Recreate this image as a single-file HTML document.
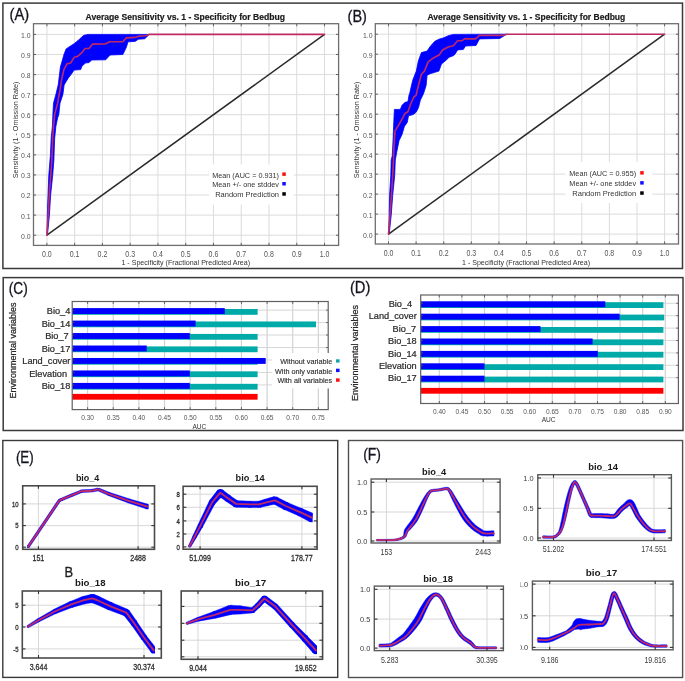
<!DOCTYPE html>
<html><head><meta charset="utf-8"><style>
html,body{margin:0;padding:0;background:#fff;}
body{width:685px;height:681px;overflow:hidden;font-family:"Liberation Sans", sans-serif;}
svg{display:block;filter:blur(0.35px);}
</style></head><body>
<svg width="685" height="681" viewBox="0 0 685 681" font-family='"Liberation Sans", sans-serif'>
<rect x="0" y="0" width="685" height="681" fill="#fff"/>
<rect x="2.9" y="3.1" width="679.6" height="265.4" fill="none" stroke="#3a3a3a" stroke-width="1.5" />
<rect x="3.2" y="277.6" width="679.8" height="152.9" fill="none" stroke="#3a3a3a" stroke-width="1.5" />
<rect x="2.8" y="440.5" width="334.9" height="236.9" fill="none" stroke="#3a3a3a" stroke-width="1.4" />
<rect x="348.5" y="440.5" width="334.1" height="237" fill="none" stroke="#505050" stroke-width="1.4" />
<text x="9.6" y="20" font-size="16.7" fill="#141420" stroke="#141420" stroke-width="0.3" textLength="19.6" lengthAdjust="spacingAndGlyphs" >(A)</text>
<text x="347.6" y="21.7" font-size="16.7" fill="#141420" stroke="#141420" stroke-width="0.3" textLength="19.3" lengthAdjust="spacingAndGlyphs" >(B)</text>
<text x="8.7" y="294" font-size="16.7" fill="#141420" stroke="#141420" stroke-width="0.3" textLength="19" lengthAdjust="spacingAndGlyphs" >(C)</text>
<text x="349.9" y="293.4" font-size="16.7" fill="#141420" stroke="#141420" stroke-width="0.3" textLength="20.4" lengthAdjust="spacingAndGlyphs" >(D)</text>
<text x="15.9" y="462.6" font-size="16.7" fill="#141420" stroke="#141420" stroke-width="0.3" textLength="17.8" lengthAdjust="spacingAndGlyphs" >(E)</text>
<text x="363.2" y="460.1" font-size="16.7" fill="#141420" stroke="#141420" stroke-width="0.3" textLength="17.8" lengthAdjust="spacingAndGlyphs" >(F)</text>
<line x1="46.9" y1="23.7" x2="46.9" y2="245.4" stroke="#dcdcdc" stroke-width="1" />
<line x1="33.5" y1="235.2" x2="338.6" y2="235.2" stroke="#dcdcdc" stroke-width="1" />
<line x1="74.66" y1="23.7" x2="74.66" y2="245.4" stroke="#dcdcdc" stroke-width="1" />
<line x1="33.5" y1="215.12" x2="338.6" y2="215.12" stroke="#dcdcdc" stroke-width="1" />
<line x1="102.42" y1="23.7" x2="102.42" y2="245.4" stroke="#dcdcdc" stroke-width="1" />
<line x1="33.5" y1="195.04" x2="338.6" y2="195.04" stroke="#dcdcdc" stroke-width="1" />
<line x1="130.18" y1="23.7" x2="130.18" y2="245.4" stroke="#dcdcdc" stroke-width="1" />
<line x1="33.5" y1="174.96" x2="338.6" y2="174.96" stroke="#dcdcdc" stroke-width="1" />
<line x1="157.94" y1="23.7" x2="157.94" y2="245.4" stroke="#dcdcdc" stroke-width="1" />
<line x1="33.5" y1="154.88" x2="338.6" y2="154.88" stroke="#dcdcdc" stroke-width="1" />
<line x1="185.7" y1="23.7" x2="185.7" y2="245.4" stroke="#dcdcdc" stroke-width="1" />
<line x1="33.5" y1="134.8" x2="338.6" y2="134.8" stroke="#dcdcdc" stroke-width="1" />
<line x1="213.46" y1="23.7" x2="213.46" y2="245.4" stroke="#dcdcdc" stroke-width="1" />
<line x1="33.5" y1="114.72" x2="338.6" y2="114.72" stroke="#dcdcdc" stroke-width="1" />
<line x1="241.22" y1="23.7" x2="241.22" y2="245.4" stroke="#dcdcdc" stroke-width="1" />
<line x1="33.5" y1="94.64" x2="338.6" y2="94.64" stroke="#dcdcdc" stroke-width="1" />
<line x1="268.98" y1="23.7" x2="268.98" y2="245.4" stroke="#dcdcdc" stroke-width="1" />
<line x1="33.5" y1="74.56" x2="338.6" y2="74.56" stroke="#dcdcdc" stroke-width="1" />
<line x1="296.74" y1="23.7" x2="296.74" y2="245.4" stroke="#dcdcdc" stroke-width="1" />
<line x1="33.5" y1="54.48" x2="338.6" y2="54.48" stroke="#dcdcdc" stroke-width="1" />
<line x1="324.5" y1="23.7" x2="324.5" y2="245.4" stroke="#dcdcdc" stroke-width="1" />
<line x1="33.5" y1="34.4" x2="338.6" y2="34.4" stroke="#dcdcdc" stroke-width="1" />
<rect x="209.1" y="164.5" width="84.7" height="40.1" fill="#fff" stroke="none" stroke-width="1" />
<polygon points="47,235.2 47.3,215.3 48,195.3 48.8,175.3 50,160 50.4,155.6 51.2,137.9 52.4,126.2 52.9,114.4 53.5,103.2 55.9,94.4 58.2,85 58.7,81.1 60.4,67 62.2,60.8 63.9,54.7 66.1,48.9 70.6,45.9 74.1,43.7 78,40.6 80.2,38.4 83.8,35.3 88.2,34.4 149.3,34.4 149.3,34.4 144.7,38.8 138.5,39.2 135,41.4 128,41.8 126.3,47.5 122.8,54.5 110.1,55 105.7,59.8 91.7,60 89.1,62.6 85.5,63 82,66.1 80.7,69.6 74.1,70.1 71.4,74.1 68.3,78 65.3,82.9 64.1,85 62.9,94.4 60,103.2 58.8,114.4 57.6,118 55.9,126.2 54.7,137.9 54.2,150 53.9,160 52.7,175.3 50.6,195.3 49.4,215.3 47.4,235.2" fill="#0000ff" stroke="#0000ff" stroke-width="0.8" stroke-linejoin="round" />
<line x1="46.9" y1="235.2" x2="324.5" y2="34.4" stroke="#2a2a2a" stroke-width="1.5" />
<polyline points="46.9,235.2 48.2,215.3 49.2,195.3 50.8,175.3 51.8,160 52.3,150 52.7,137.9 53.5,126.2 54.7,114.4 57.6,103.2 60,90 61.7,79.3 63.9,69.6 67,63.9 70.6,63 74.1,57.3 77.6,56.4 81.6,52.9 85.1,48.5 89,48.5 92.6,44.1 105.3,44 109.6,41.8 122.8,41.8 126.3,37.9 135,37.4 139.4,36.1 145.5,35.7 149.3,34.4 324.5,34.4" fill="none" stroke="#bf2a66" stroke-width="1.6" stroke-linejoin="round" stroke-linecap="round" />
<rect x="33.5" y="23.7" width="305.1" height="221.7" fill="none" stroke="#6e6e6e" stroke-width="1.3" />
<line x1="46.9" y1="23.7" x2="46.9" y2="26.3" stroke="#555" stroke-width="0.9" />
<line x1="46.9" y1="245.4" x2="46.9" y2="242.8" stroke="#555" stroke-width="0.9" />
<line x1="33.5" y1="235.2" x2="36.1" y2="235.2" stroke="#555" stroke-width="0.9" />
<line x1="338.6" y1="235.2" x2="336" y2="235.2" stroke="#555" stroke-width="0.9" />
<line x1="74.66" y1="23.7" x2="74.66" y2="26.3" stroke="#555" stroke-width="0.9" />
<line x1="74.66" y1="245.4" x2="74.66" y2="242.8" stroke="#555" stroke-width="0.9" />
<line x1="33.5" y1="215.12" x2="36.1" y2="215.12" stroke="#555" stroke-width="0.9" />
<line x1="338.6" y1="215.12" x2="336" y2="215.12" stroke="#555" stroke-width="0.9" />
<line x1="102.42" y1="23.7" x2="102.42" y2="26.3" stroke="#555" stroke-width="0.9" />
<line x1="102.42" y1="245.4" x2="102.42" y2="242.8" stroke="#555" stroke-width="0.9" />
<line x1="33.5" y1="195.04" x2="36.1" y2="195.04" stroke="#555" stroke-width="0.9" />
<line x1="338.6" y1="195.04" x2="336" y2="195.04" stroke="#555" stroke-width="0.9" />
<line x1="130.18" y1="23.7" x2="130.18" y2="26.3" stroke="#555" stroke-width="0.9" />
<line x1="130.18" y1="245.4" x2="130.18" y2="242.8" stroke="#555" stroke-width="0.9" />
<line x1="33.5" y1="174.96" x2="36.1" y2="174.96" stroke="#555" stroke-width="0.9" />
<line x1="338.6" y1="174.96" x2="336" y2="174.96" stroke="#555" stroke-width="0.9" />
<line x1="157.94" y1="23.7" x2="157.94" y2="26.3" stroke="#555" stroke-width="0.9" />
<line x1="157.94" y1="245.4" x2="157.94" y2="242.8" stroke="#555" stroke-width="0.9" />
<line x1="33.5" y1="154.88" x2="36.1" y2="154.88" stroke="#555" stroke-width="0.9" />
<line x1="338.6" y1="154.88" x2="336" y2="154.88" stroke="#555" stroke-width="0.9" />
<line x1="185.7" y1="23.7" x2="185.7" y2="26.3" stroke="#555" stroke-width="0.9" />
<line x1="185.7" y1="245.4" x2="185.7" y2="242.8" stroke="#555" stroke-width="0.9" />
<line x1="33.5" y1="134.8" x2="36.1" y2="134.8" stroke="#555" stroke-width="0.9" />
<line x1="338.6" y1="134.8" x2="336" y2="134.8" stroke="#555" stroke-width="0.9" />
<line x1="213.46" y1="23.7" x2="213.46" y2="26.3" stroke="#555" stroke-width="0.9" />
<line x1="213.46" y1="245.4" x2="213.46" y2="242.8" stroke="#555" stroke-width="0.9" />
<line x1="33.5" y1="114.72" x2="36.1" y2="114.72" stroke="#555" stroke-width="0.9" />
<line x1="338.6" y1="114.72" x2="336" y2="114.72" stroke="#555" stroke-width="0.9" />
<line x1="241.22" y1="23.7" x2="241.22" y2="26.3" stroke="#555" stroke-width="0.9" />
<line x1="241.22" y1="245.4" x2="241.22" y2="242.8" stroke="#555" stroke-width="0.9" />
<line x1="33.5" y1="94.64" x2="36.1" y2="94.64" stroke="#555" stroke-width="0.9" />
<line x1="338.6" y1="94.64" x2="336" y2="94.64" stroke="#555" stroke-width="0.9" />
<line x1="268.98" y1="23.7" x2="268.98" y2="26.3" stroke="#555" stroke-width="0.9" />
<line x1="268.98" y1="245.4" x2="268.98" y2="242.8" stroke="#555" stroke-width="0.9" />
<line x1="33.5" y1="74.56" x2="36.1" y2="74.56" stroke="#555" stroke-width="0.9" />
<line x1="338.6" y1="74.56" x2="336" y2="74.56" stroke="#555" stroke-width="0.9" />
<line x1="296.74" y1="23.7" x2="296.74" y2="26.3" stroke="#555" stroke-width="0.9" />
<line x1="296.74" y1="245.4" x2="296.74" y2="242.8" stroke="#555" stroke-width="0.9" />
<line x1="33.5" y1="54.48" x2="36.1" y2="54.48" stroke="#555" stroke-width="0.9" />
<line x1="338.6" y1="54.48" x2="336" y2="54.48" stroke="#555" stroke-width="0.9" />
<line x1="324.5" y1="23.7" x2="324.5" y2="26.3" stroke="#555" stroke-width="0.9" />
<line x1="324.5" y1="245.4" x2="324.5" y2="242.8" stroke="#555" stroke-width="0.9" />
<line x1="33.5" y1="34.4" x2="36.1" y2="34.4" stroke="#555" stroke-width="0.9" />
<line x1="338.6" y1="34.4" x2="336" y2="34.4" stroke="#555" stroke-width="0.9" />
<text x="30.7" y="238.6" font-size="8" fill="#555" text-anchor="end" textLength="9.59" lengthAdjust="spacingAndGlyphs" >0.0</text>
<text x="46.9" y="256.9" font-size="8.4" fill="#555" text-anchor="middle" textLength="9.73" lengthAdjust="spacingAndGlyphs" >0.0</text>
<text x="30.7" y="218.52" font-size="8" fill="#555" text-anchor="end" textLength="9.59" lengthAdjust="spacingAndGlyphs" >0.1</text>
<text x="74.66" y="256.9" font-size="8.4" fill="#555" text-anchor="middle" textLength="9.73" lengthAdjust="spacingAndGlyphs" >0.1</text>
<text x="30.7" y="198.44" font-size="8" fill="#555" text-anchor="end" textLength="9.59" lengthAdjust="spacingAndGlyphs" >0.2</text>
<text x="102.42" y="256.9" font-size="8.4" fill="#555" text-anchor="middle" textLength="9.73" lengthAdjust="spacingAndGlyphs" >0.2</text>
<text x="30.7" y="178.36" font-size="8" fill="#555" text-anchor="end" textLength="9.59" lengthAdjust="spacingAndGlyphs" >0.3</text>
<text x="130.18" y="256.9" font-size="8.4" fill="#555" text-anchor="middle" textLength="9.73" lengthAdjust="spacingAndGlyphs" >0.3</text>
<text x="30.7" y="158.28" font-size="8" fill="#555" text-anchor="end" textLength="9.59" lengthAdjust="spacingAndGlyphs" >0.4</text>
<text x="157.94" y="256.9" font-size="8.4" fill="#555" text-anchor="middle" textLength="9.73" lengthAdjust="spacingAndGlyphs" >0.4</text>
<text x="30.7" y="138.2" font-size="8" fill="#555" text-anchor="end" textLength="9.59" lengthAdjust="spacingAndGlyphs" >0.5</text>
<text x="185.7" y="256.9" font-size="8.4" fill="#555" text-anchor="middle" textLength="9.73" lengthAdjust="spacingAndGlyphs" >0.5</text>
<text x="30.7" y="118.12" font-size="8" fill="#555" text-anchor="end" textLength="9.59" lengthAdjust="spacingAndGlyphs" >0.6</text>
<text x="213.46" y="256.9" font-size="8.4" fill="#555" text-anchor="middle" textLength="9.73" lengthAdjust="spacingAndGlyphs" >0.6</text>
<text x="30.7" y="98.04" font-size="8" fill="#555" text-anchor="end" textLength="9.59" lengthAdjust="spacingAndGlyphs" >0.7</text>
<text x="241.22" y="256.9" font-size="8.4" fill="#555" text-anchor="middle" textLength="9.73" lengthAdjust="spacingAndGlyphs" >0.7</text>
<text x="30.7" y="77.96" font-size="8" fill="#555" text-anchor="end" textLength="9.59" lengthAdjust="spacingAndGlyphs" >0.8</text>
<text x="268.98" y="256.9" font-size="8.4" fill="#555" text-anchor="middle" textLength="9.73" lengthAdjust="spacingAndGlyphs" >0.8</text>
<text x="30.7" y="57.88" font-size="8" fill="#555" text-anchor="end" textLength="9.59" lengthAdjust="spacingAndGlyphs" >0.9</text>
<text x="296.74" y="256.9" font-size="8.4" fill="#555" text-anchor="middle" textLength="9.73" lengthAdjust="spacingAndGlyphs" >0.9</text>
<text x="30.7" y="37.8" font-size="8" fill="#555" text-anchor="end" textLength="9.59" lengthAdjust="spacingAndGlyphs" >1.0</text>
<text x="324.5" y="256.9" font-size="8.4" fill="#555" text-anchor="middle" textLength="9.73" lengthAdjust="spacingAndGlyphs" >1.0</text>
<text x="85.5" y="20.4" font-size="8.6" fill="#1a1a1a" stroke="#1a1a1a" stroke-width="0.2" font-weight="bold" textLength="199.6" lengthAdjust="spacingAndGlyphs" >Average Sensitivity vs. 1 - Specificity for Bedbug</text>
<text x="121.4" y="264.7" font-size="7.1" fill="#333" textLength="128.7" lengthAdjust="spacingAndGlyphs" >1 - Specificity (Fractional Predicted Area)</text>
<text x="17.6" y="178.3" font-size="7.9" fill="#333" textLength="96.7" lengthAdjust="spacingAndGlyphs" transform="rotate(-90 17.6 178.3)" >Sensitivity (1 - Omission Rate)</text>
<text x="279" y="177.6" font-size="7.25" fill="#333" text-anchor="end" textLength="66.8" lengthAdjust="spacingAndGlyphs" >Mean (AUC = 0.931)</text>
<text x="279" y="187.4" font-size="7.25" fill="#333" text-anchor="end" textLength="66.8" lengthAdjust="spacingAndGlyphs" >Mean +/- one stddev</text>
<text x="279" y="197.4" font-size="7.25" fill="#333" text-anchor="end" textLength="63.8" lengthAdjust="spacingAndGlyphs" >Random Prediction</text>
<rect x="282.3" y="172.4" width="3.5" height="3.5" fill="#ff1010" stroke="none" stroke-width="1" />
<rect x="282.3" y="182" width="3.5" height="3.5" fill="#1010ff" stroke="none" stroke-width="1" />
<rect x="282.3" y="192.2" width="3.5" height="3.5" fill="#000" stroke="none" stroke-width="1" />
<line x1="388.5" y1="23.7" x2="388.5" y2="244" stroke="#dcdcdc" stroke-width="1" />
<line x1="375.3" y1="234.1" x2="678.5" y2="234.1" stroke="#dcdcdc" stroke-width="1" />
<line x1="416.11" y1="23.7" x2="416.11" y2="244" stroke="#dcdcdc" stroke-width="1" />
<line x1="375.3" y1="214.11" x2="678.5" y2="214.11" stroke="#dcdcdc" stroke-width="1" />
<line x1="443.72" y1="23.7" x2="443.72" y2="244" stroke="#dcdcdc" stroke-width="1" />
<line x1="375.3" y1="194.12" x2="678.5" y2="194.12" stroke="#dcdcdc" stroke-width="1" />
<line x1="471.33" y1="23.7" x2="471.33" y2="244" stroke="#dcdcdc" stroke-width="1" />
<line x1="375.3" y1="174.13" x2="678.5" y2="174.13" stroke="#dcdcdc" stroke-width="1" />
<line x1="498.94" y1="23.7" x2="498.94" y2="244" stroke="#dcdcdc" stroke-width="1" />
<line x1="375.3" y1="154.14" x2="678.5" y2="154.14" stroke="#dcdcdc" stroke-width="1" />
<line x1="526.55" y1="23.7" x2="526.55" y2="244" stroke="#dcdcdc" stroke-width="1" />
<line x1="375.3" y1="134.15" x2="678.5" y2="134.15" stroke="#dcdcdc" stroke-width="1" />
<line x1="554.16" y1="23.7" x2="554.16" y2="244" stroke="#dcdcdc" stroke-width="1" />
<line x1="375.3" y1="114.16" x2="678.5" y2="114.16" stroke="#dcdcdc" stroke-width="1" />
<line x1="581.77" y1="23.7" x2="581.77" y2="244" stroke="#dcdcdc" stroke-width="1" />
<line x1="375.3" y1="94.17" x2="678.5" y2="94.17" stroke="#dcdcdc" stroke-width="1" />
<line x1="609.38" y1="23.7" x2="609.38" y2="244" stroke="#dcdcdc" stroke-width="1" />
<line x1="375.3" y1="74.18" x2="678.5" y2="74.18" stroke="#dcdcdc" stroke-width="1" />
<line x1="636.99" y1="23.7" x2="636.99" y2="244" stroke="#dcdcdc" stroke-width="1" />
<line x1="375.3" y1="54.19" x2="678.5" y2="54.19" stroke="#dcdcdc" stroke-width="1" />
<line x1="664.6" y1="23.7" x2="664.6" y2="244" stroke="#dcdcdc" stroke-width="1" />
<line x1="375.3" y1="34.2" x2="678.5" y2="34.2" stroke="#dcdcdc" stroke-width="1" />
<rect x="565.4" y="162" width="86.8" height="41" fill="#fff" stroke="none" stroke-width="1" />
<polygon points="388.8,234.1 389.2,215.3 389.6,195.3 390.8,175.3 391.2,160 392.3,155.7 393.2,137 393.8,121.7 394.4,109.4 400.3,109.4 402,105.3 405,102.3 407.9,101.7 409.1,94.7 409.6,93.7 412.7,80.3 416.3,71.1 418.4,60.8 421.4,52.6 427.1,51.1 430.2,46.4 434.8,41.3 438.9,39.2 444,37.7 448.2,35.7 453.3,34.4 505.4,34.2 506.7,34.2 499.7,38.5 479.5,38.9 476,45.5 465.5,46 463.3,49.5 457.6,49.9 455,54.3 453.3,55.7 449.2,57.2 446.6,59.8 444,61.9 441.5,63.9 438.9,71.1 430.2,73.7 427.1,75.2 426.1,85.5 423.5,93.7 420.4,100 418.5,107.6 416.1,112.3 413.2,114.6 408.5,115.8 407.3,122.3 404.4,126.4 402,134.6 399.1,140.5 396.7,152.2 395.3,160 394.7,175.3 392.7,195.3 391.2,215.3 389.2,234.1" fill="#0000ff" stroke="#0000ff" stroke-width="0.8" stroke-linejoin="round" />
<line x1="388.5" y1="234.1" x2="664.6" y2="34.2" stroke="#2a2a2a" stroke-width="1.5" />
<polyline points="388.5,234.1 390,215.3 391.4,195.3 392.7,175.3 393.5,160 393.8,148.7 395,131.1 397.9,126.4 402.6,118.2 405,113.5 407.9,111.7 410.2,105.3 413.8,97 416.1,95.3 418.4,85.5 421.4,74.2 424.5,71.1 428.1,61.9 433.8,57.7 439.4,54.7 442.5,50 448.2,47 453.8,45.4 455,43.8 457.6,40.7 462,40.7 464.6,38.9 475.6,38.9 479.5,35.4 502.3,35.4 506.7,34.2 664.6,34.2" fill="none" stroke="#bf2a66" stroke-width="1.6" stroke-linejoin="round" stroke-linecap="round" />
<rect x="375.3" y="23.7" width="303.2" height="220.3" fill="none" stroke="#6e6e6e" stroke-width="1.3" />
<line x1="388.5" y1="23.7" x2="388.5" y2="26.3" stroke="#555" stroke-width="0.9" />
<line x1="388.5" y1="244" x2="388.5" y2="241.4" stroke="#555" stroke-width="0.9" />
<line x1="375.3" y1="234.1" x2="377.9" y2="234.1" stroke="#555" stroke-width="0.9" />
<line x1="678.5" y1="234.1" x2="675.9" y2="234.1" stroke="#555" stroke-width="0.9" />
<line x1="416.11" y1="23.7" x2="416.11" y2="26.3" stroke="#555" stroke-width="0.9" />
<line x1="416.11" y1="244" x2="416.11" y2="241.4" stroke="#555" stroke-width="0.9" />
<line x1="375.3" y1="214.11" x2="377.9" y2="214.11" stroke="#555" stroke-width="0.9" />
<line x1="678.5" y1="214.11" x2="675.9" y2="214.11" stroke="#555" stroke-width="0.9" />
<line x1="443.72" y1="23.7" x2="443.72" y2="26.3" stroke="#555" stroke-width="0.9" />
<line x1="443.72" y1="244" x2="443.72" y2="241.4" stroke="#555" stroke-width="0.9" />
<line x1="375.3" y1="194.12" x2="377.9" y2="194.12" stroke="#555" stroke-width="0.9" />
<line x1="678.5" y1="194.12" x2="675.9" y2="194.12" stroke="#555" stroke-width="0.9" />
<line x1="471.33" y1="23.7" x2="471.33" y2="26.3" stroke="#555" stroke-width="0.9" />
<line x1="471.33" y1="244" x2="471.33" y2="241.4" stroke="#555" stroke-width="0.9" />
<line x1="375.3" y1="174.13" x2="377.9" y2="174.13" stroke="#555" stroke-width="0.9" />
<line x1="678.5" y1="174.13" x2="675.9" y2="174.13" stroke="#555" stroke-width="0.9" />
<line x1="498.94" y1="23.7" x2="498.94" y2="26.3" stroke="#555" stroke-width="0.9" />
<line x1="498.94" y1="244" x2="498.94" y2="241.4" stroke="#555" stroke-width="0.9" />
<line x1="375.3" y1="154.14" x2="377.9" y2="154.14" stroke="#555" stroke-width="0.9" />
<line x1="678.5" y1="154.14" x2="675.9" y2="154.14" stroke="#555" stroke-width="0.9" />
<line x1="526.55" y1="23.7" x2="526.55" y2="26.3" stroke="#555" stroke-width="0.9" />
<line x1="526.55" y1="244" x2="526.55" y2="241.4" stroke="#555" stroke-width="0.9" />
<line x1="375.3" y1="134.15" x2="377.9" y2="134.15" stroke="#555" stroke-width="0.9" />
<line x1="678.5" y1="134.15" x2="675.9" y2="134.15" stroke="#555" stroke-width="0.9" />
<line x1="554.16" y1="23.7" x2="554.16" y2="26.3" stroke="#555" stroke-width="0.9" />
<line x1="554.16" y1="244" x2="554.16" y2="241.4" stroke="#555" stroke-width="0.9" />
<line x1="375.3" y1="114.16" x2="377.9" y2="114.16" stroke="#555" stroke-width="0.9" />
<line x1="678.5" y1="114.16" x2="675.9" y2="114.16" stroke="#555" stroke-width="0.9" />
<line x1="581.77" y1="23.7" x2="581.77" y2="26.3" stroke="#555" stroke-width="0.9" />
<line x1="581.77" y1="244" x2="581.77" y2="241.4" stroke="#555" stroke-width="0.9" />
<line x1="375.3" y1="94.17" x2="377.9" y2="94.17" stroke="#555" stroke-width="0.9" />
<line x1="678.5" y1="94.17" x2="675.9" y2="94.17" stroke="#555" stroke-width="0.9" />
<line x1="609.38" y1="23.7" x2="609.38" y2="26.3" stroke="#555" stroke-width="0.9" />
<line x1="609.38" y1="244" x2="609.38" y2="241.4" stroke="#555" stroke-width="0.9" />
<line x1="375.3" y1="74.18" x2="377.9" y2="74.18" stroke="#555" stroke-width="0.9" />
<line x1="678.5" y1="74.18" x2="675.9" y2="74.18" stroke="#555" stroke-width="0.9" />
<line x1="636.99" y1="23.7" x2="636.99" y2="26.3" stroke="#555" stroke-width="0.9" />
<line x1="636.99" y1="244" x2="636.99" y2="241.4" stroke="#555" stroke-width="0.9" />
<line x1="375.3" y1="54.19" x2="377.9" y2="54.19" stroke="#555" stroke-width="0.9" />
<line x1="678.5" y1="54.19" x2="675.9" y2="54.19" stroke="#555" stroke-width="0.9" />
<line x1="664.6" y1="23.7" x2="664.6" y2="26.3" stroke="#555" stroke-width="0.9" />
<line x1="664.6" y1="244" x2="664.6" y2="241.4" stroke="#555" stroke-width="0.9" />
<line x1="375.3" y1="34.2" x2="377.9" y2="34.2" stroke="#555" stroke-width="0.9" />
<line x1="678.5" y1="34.2" x2="675.9" y2="34.2" stroke="#555" stroke-width="0.9" />
<text x="372.5" y="237.5" font-size="8" fill="#555" text-anchor="end" textLength="9.59" lengthAdjust="spacingAndGlyphs" >0.0</text>
<text x="388.5" y="255.5" font-size="8.4" fill="#555" text-anchor="middle" textLength="9.73" lengthAdjust="spacingAndGlyphs" >0.0</text>
<text x="372.5" y="217.51" font-size="8" fill="#555" text-anchor="end" textLength="9.59" lengthAdjust="spacingAndGlyphs" >0.1</text>
<text x="416.11" y="255.5" font-size="8.4" fill="#555" text-anchor="middle" textLength="9.73" lengthAdjust="spacingAndGlyphs" >0.1</text>
<text x="372.5" y="197.52" font-size="8" fill="#555" text-anchor="end" textLength="9.59" lengthAdjust="spacingAndGlyphs" >0.2</text>
<text x="443.72" y="255.5" font-size="8.4" fill="#555" text-anchor="middle" textLength="9.73" lengthAdjust="spacingAndGlyphs" >0.2</text>
<text x="372.5" y="177.53" font-size="8" fill="#555" text-anchor="end" textLength="9.59" lengthAdjust="spacingAndGlyphs" >0.3</text>
<text x="471.33" y="255.5" font-size="8.4" fill="#555" text-anchor="middle" textLength="9.73" lengthAdjust="spacingAndGlyphs" >0.3</text>
<text x="372.5" y="157.54" font-size="8" fill="#555" text-anchor="end" textLength="9.59" lengthAdjust="spacingAndGlyphs" >0.4</text>
<text x="498.94" y="255.5" font-size="8.4" fill="#555" text-anchor="middle" textLength="9.73" lengthAdjust="spacingAndGlyphs" >0.4</text>
<text x="372.5" y="137.55" font-size="8" fill="#555" text-anchor="end" textLength="9.59" lengthAdjust="spacingAndGlyphs" >0.5</text>
<text x="526.55" y="255.5" font-size="8.4" fill="#555" text-anchor="middle" textLength="9.73" lengthAdjust="spacingAndGlyphs" >0.5</text>
<text x="372.5" y="117.56" font-size="8" fill="#555" text-anchor="end" textLength="9.59" lengthAdjust="spacingAndGlyphs" >0.6</text>
<text x="554.16" y="255.5" font-size="8.4" fill="#555" text-anchor="middle" textLength="9.73" lengthAdjust="spacingAndGlyphs" >0.6</text>
<text x="372.5" y="97.57" font-size="8" fill="#555" text-anchor="end" textLength="9.59" lengthAdjust="spacingAndGlyphs" >0.7</text>
<text x="581.77" y="255.5" font-size="8.4" fill="#555" text-anchor="middle" textLength="9.73" lengthAdjust="spacingAndGlyphs" >0.7</text>
<text x="372.5" y="77.58" font-size="8" fill="#555" text-anchor="end" textLength="9.59" lengthAdjust="spacingAndGlyphs" >0.8</text>
<text x="609.38" y="255.5" font-size="8.4" fill="#555" text-anchor="middle" textLength="9.73" lengthAdjust="spacingAndGlyphs" >0.8</text>
<text x="372.5" y="57.59" font-size="8" fill="#555" text-anchor="end" textLength="9.59" lengthAdjust="spacingAndGlyphs" >0.9</text>
<text x="636.99" y="255.5" font-size="8.4" fill="#555" text-anchor="middle" textLength="9.73" lengthAdjust="spacingAndGlyphs" >0.9</text>
<text x="372.5" y="37.6" font-size="8" fill="#555" text-anchor="end" textLength="9.59" lengthAdjust="spacingAndGlyphs" >1.0</text>
<text x="664.6" y="255.5" font-size="8.4" fill="#555" text-anchor="middle" textLength="9.73" lengthAdjust="spacingAndGlyphs" >1.0</text>
<text x="427.4" y="20.4" font-size="8.6" fill="#1a1a1a" stroke="#1a1a1a" stroke-width="0.2" font-weight="bold" textLength="197.9" lengthAdjust="spacingAndGlyphs" >Average Sensitivity vs. 1 - Specificity for Bedbug</text>
<text x="462" y="264.7" font-size="7.1" fill="#333" textLength="128" lengthAdjust="spacingAndGlyphs" >1 - Specificity (Fractional Predicted Area)</text>
<text x="359.4" y="178.3" font-size="7.9" fill="#333" textLength="96.7" lengthAdjust="spacingAndGlyphs" transform="rotate(-90 359.4 178.3)" >Sensitivity (1 - Omission Rate)</text>
<text x="636.1" y="176.4" font-size="7.25" fill="#333" text-anchor="end" textLength="66.8" lengthAdjust="spacingAndGlyphs" >Mean (AUC = 0.955)</text>
<text x="636.1" y="186.4" font-size="7.25" fill="#333" text-anchor="end" textLength="66.8" lengthAdjust="spacingAndGlyphs" >Mean +/- one stddev</text>
<text x="636.1" y="196.2" font-size="7.25" fill="#333" text-anchor="end" textLength="63.8" lengthAdjust="spacingAndGlyphs" >Random Prediction</text>
<rect x="640.2" y="171.1" width="3.5" height="3.5" fill="#ff1010" stroke="none" stroke-width="1" />
<rect x="640.2" y="181.1" width="3.5" height="3.5" fill="#1010ff" stroke="none" stroke-width="1" />
<rect x="640.2" y="191.3" width="3.5" height="3.5" fill="#000" stroke="none" stroke-width="1" />
<line x1="87.6" y1="301.5" x2="87.6" y2="409.6" stroke="#d2d2d2" stroke-width="1.2" />
<line x1="113.24" y1="301.5" x2="113.24" y2="409.6" stroke="#d2d2d2" stroke-width="1.2" />
<line x1="138.88" y1="301.5" x2="138.88" y2="409.6" stroke="#d2d2d2" stroke-width="1.2" />
<line x1="164.52" y1="301.5" x2="164.52" y2="409.6" stroke="#d2d2d2" stroke-width="1.2" />
<line x1="190.16" y1="301.5" x2="190.16" y2="409.6" stroke="#d2d2d2" stroke-width="1.2" />
<line x1="215.8" y1="301.5" x2="215.8" y2="409.6" stroke="#d2d2d2" stroke-width="1.2" />
<line x1="241.44" y1="301.5" x2="241.44" y2="409.6" stroke="#d2d2d2" stroke-width="1.2" />
<line x1="267.08" y1="301.5" x2="267.08" y2="409.6" stroke="#d2d2d2" stroke-width="1.2" />
<line x1="292.72" y1="301.5" x2="292.72" y2="409.6" stroke="#d2d2d2" stroke-width="1.2" />
<line x1="318.36" y1="301.5" x2="318.36" y2="409.6" stroke="#d2d2d2" stroke-width="1.2" />
<line x1="72.2" y1="310.1" x2="328.2" y2="310.1" stroke="#d6d6d6" stroke-width="1" />
<line x1="72.2" y1="322.57" x2="328.2" y2="322.57" stroke="#d6d6d6" stroke-width="1" />
<line x1="72.2" y1="335.04" x2="328.2" y2="335.04" stroke="#d6d6d6" stroke-width="1" />
<line x1="72.2" y1="347.51" x2="328.2" y2="347.51" stroke="#d6d6d6" stroke-width="1" />
<line x1="72.2" y1="359.98" x2="328.2" y2="359.98" stroke="#d6d6d6" stroke-width="1" />
<line x1="72.2" y1="372.45" x2="328.2" y2="372.45" stroke="#d6d6d6" stroke-width="1" />
<line x1="72.2" y1="384.92" x2="328.2" y2="384.92" stroke="#d6d6d6" stroke-width="1" />
<rect x="72.2" y="309" width="185.4" height="5.8" fill="#00aaa8" stroke="none" stroke-width="1" />
<rect x="72.2" y="308.1" width="152.6" height="5.9" fill="#0000ff" stroke="none" stroke-width="1" />
<text x="70.3" y="314.4" font-size="9.2" fill="#2a2a2a" stroke="#2a2a2a" stroke-width="0.22" text-anchor="end" >Bio_4</text>
<rect x="72.2" y="321.47" width="243.8" height="5.8" fill="#00aaa8" stroke="none" stroke-width="1" />
<rect x="72.2" y="320.57" width="123.4" height="5.9" fill="#0000ff" stroke="none" stroke-width="1" />
<text x="70.3" y="326.87" font-size="9.2" fill="#2a2a2a" stroke="#2a2a2a" stroke-width="0.22" text-anchor="end" >Bio_14</text>
<rect x="72.2" y="333.94" width="185.4" height="5.8" fill="#00aaa8" stroke="none" stroke-width="1" />
<rect x="72.2" y="333.04" width="117.6" height="5.9" fill="#0000ff" stroke="none" stroke-width="1" />
<text x="68.7" y="339.34" font-size="9.2" fill="#2a2a2a" stroke="#2a2a2a" stroke-width="0.22" text-anchor="end" >Bio_7</text>
<rect x="72.2" y="346.41" width="185.4" height="5.8" fill="#00aaa8" stroke="none" stroke-width="1" />
<rect x="72.2" y="345.51" width="74.5" height="5.9" fill="#0000ff" stroke="none" stroke-width="1" />
<text x="70.3" y="351.81" font-size="9.2" fill="#2a2a2a" stroke="#2a2a2a" stroke-width="0.22" text-anchor="end" >Bio_17</text>
<rect x="72.2" y="358.88" width="185.4" height="5.8" fill="#00aaa8" stroke="none" stroke-width="1" />
<rect x="72.2" y="357.98" width="193.5" height="5.9" fill="#0000ff" stroke="none" stroke-width="1" />
<text x="70.3" y="364.28" font-size="9.2" fill="#2a2a2a" stroke="#2a2a2a" stroke-width="0.22" text-anchor="end" >Land_cover</text>
<rect x="72.2" y="371.35" width="185.4" height="5.8" fill="#00aaa8" stroke="none" stroke-width="1" />
<rect x="72.2" y="370.45" width="117.6" height="5.9" fill="#0000ff" stroke="none" stroke-width="1" />
<text x="67" y="376.75" font-size="9.2" fill="#2a2a2a" stroke="#2a2a2a" stroke-width="0.22" text-anchor="end" >Elevation</text>
<rect x="72.2" y="383.82" width="185.4" height="5.8" fill="#00aaa8" stroke="none" stroke-width="1" />
<rect x="72.2" y="382.92" width="117.6" height="5.9" fill="#0000ff" stroke="none" stroke-width="1" />
<text x="70.3" y="389.22" font-size="9.2" fill="#2a2a2a" stroke="#2a2a2a" stroke-width="0.22" text-anchor="end" >Bio_18</text>
<rect x="72.2" y="393.89" width="185.4" height="5.8" fill="#ff0000" stroke="none" stroke-width="1" />
<rect x="72.2" y="301.5" width="256" height="108.1" fill="none" stroke="#606060" stroke-width="1.2" />
<line x1="87.6" y1="301.5" x2="87.6" y2="303.9" stroke="#555" stroke-width="0.9" />
<line x1="87.6" y1="409.6" x2="87.6" y2="407.2" stroke="#555" stroke-width="0.9" />
<text x="87.6" y="420.3" font-size="7.2" fill="#555" text-anchor="middle" textLength="12.85" lengthAdjust="spacingAndGlyphs" >0.30</text>
<line x1="113.24" y1="301.5" x2="113.24" y2="303.9" stroke="#555" stroke-width="0.9" />
<line x1="113.24" y1="409.6" x2="113.24" y2="407.2" stroke="#555" stroke-width="0.9" />
<text x="113.24" y="420.3" font-size="7.2" fill="#555" text-anchor="middle" textLength="12.85" lengthAdjust="spacingAndGlyphs" >0.35</text>
<line x1="138.88" y1="301.5" x2="138.88" y2="303.9" stroke="#555" stroke-width="0.9" />
<line x1="138.88" y1="409.6" x2="138.88" y2="407.2" stroke="#555" stroke-width="0.9" />
<text x="138.88" y="420.3" font-size="7.2" fill="#555" text-anchor="middle" textLength="12.85" lengthAdjust="spacingAndGlyphs" >0.40</text>
<line x1="164.52" y1="301.5" x2="164.52" y2="303.9" stroke="#555" stroke-width="0.9" />
<line x1="164.52" y1="409.6" x2="164.52" y2="407.2" stroke="#555" stroke-width="0.9" />
<text x="164.52" y="420.3" font-size="7.2" fill="#555" text-anchor="middle" textLength="12.85" lengthAdjust="spacingAndGlyphs" >0.45</text>
<line x1="190.16" y1="301.5" x2="190.16" y2="303.9" stroke="#555" stroke-width="0.9" />
<line x1="190.16" y1="409.6" x2="190.16" y2="407.2" stroke="#555" stroke-width="0.9" />
<text x="190.16" y="420.3" font-size="7.2" fill="#555" text-anchor="middle" textLength="12.85" lengthAdjust="spacingAndGlyphs" >0.50</text>
<line x1="215.8" y1="301.5" x2="215.8" y2="303.9" stroke="#555" stroke-width="0.9" />
<line x1="215.8" y1="409.6" x2="215.8" y2="407.2" stroke="#555" stroke-width="0.9" />
<text x="215.8" y="420.3" font-size="7.2" fill="#555" text-anchor="middle" textLength="12.85" lengthAdjust="spacingAndGlyphs" >0.55</text>
<line x1="241.44" y1="301.5" x2="241.44" y2="303.9" stroke="#555" stroke-width="0.9" />
<line x1="241.44" y1="409.6" x2="241.44" y2="407.2" stroke="#555" stroke-width="0.9" />
<text x="241.44" y="420.3" font-size="7.2" fill="#555" text-anchor="middle" textLength="12.85" lengthAdjust="spacingAndGlyphs" >0.60</text>
<line x1="267.08" y1="301.5" x2="267.08" y2="303.9" stroke="#555" stroke-width="0.9" />
<line x1="267.08" y1="409.6" x2="267.08" y2="407.2" stroke="#555" stroke-width="0.9" />
<text x="267.08" y="420.3" font-size="7.2" fill="#555" text-anchor="middle" textLength="12.85" lengthAdjust="spacingAndGlyphs" >0.65</text>
<line x1="292.72" y1="301.5" x2="292.72" y2="303.9" stroke="#555" stroke-width="0.9" />
<line x1="292.72" y1="409.6" x2="292.72" y2="407.2" stroke="#555" stroke-width="0.9" />
<text x="292.72" y="420.3" font-size="7.2" fill="#555" text-anchor="middle" textLength="12.85" lengthAdjust="spacingAndGlyphs" >0.70</text>
<line x1="318.36" y1="301.5" x2="318.36" y2="303.9" stroke="#555" stroke-width="0.9" />
<line x1="318.36" y1="409.6" x2="318.36" y2="407.2" stroke="#555" stroke-width="0.9" />
<text x="318.36" y="420.3" font-size="7.2" fill="#555" text-anchor="middle" textLength="12.85" lengthAdjust="spacingAndGlyphs" >0.75</text>
<line x1="72.2" y1="310.1" x2="74.4" y2="310.1" stroke="#555" stroke-width="0.8" />
<line x1="328.2" y1="310.1" x2="326" y2="310.1" stroke="#555" stroke-width="0.8" />
<line x1="72.2" y1="322.57" x2="74.4" y2="322.57" stroke="#555" stroke-width="0.8" />
<line x1="328.2" y1="322.57" x2="326" y2="322.57" stroke="#555" stroke-width="0.8" />
<line x1="72.2" y1="335.04" x2="74.4" y2="335.04" stroke="#555" stroke-width="0.8" />
<line x1="328.2" y1="335.04" x2="326" y2="335.04" stroke="#555" stroke-width="0.8" />
<line x1="72.2" y1="347.51" x2="74.4" y2="347.51" stroke="#555" stroke-width="0.8" />
<line x1="328.2" y1="347.51" x2="326" y2="347.51" stroke="#555" stroke-width="0.8" />
<line x1="72.2" y1="359.98" x2="74.4" y2="359.98" stroke="#555" stroke-width="0.8" />
<line x1="328.2" y1="359.98" x2="326" y2="359.98" stroke="#555" stroke-width="0.8" />
<line x1="72.2" y1="372.45" x2="74.4" y2="372.45" stroke="#555" stroke-width="0.8" />
<line x1="328.2" y1="372.45" x2="326" y2="372.45" stroke="#555" stroke-width="0.8" />
<line x1="72.2" y1="384.92" x2="74.4" y2="384.92" stroke="#555" stroke-width="0.8" />
<line x1="328.2" y1="384.92" x2="326" y2="384.92" stroke="#555" stroke-width="0.8" />
<text x="199.4" y="428.9" font-size="6.6" fill="#333" text-anchor="middle" >AUC</text>
<rect x="272" y="353" width="70" height="35.5" fill="#fff" stroke="none" stroke-width="1" />
<text x="15.6" y="398.6" font-size="9" fill="#2a2a2a" stroke="#2a2a2a" stroke-width="0.25" textLength="96" lengthAdjust="spacingAndGlyphs" transform="rotate(-90 15.6 398.6)" >Environmental variables</text>
<text x="332.2" y="364.2" font-size="7.25" fill="#333" stroke="#333" stroke-width="0.15" text-anchor="end" >Without variable</text>
<text x="332.2" y="373.6" font-size="7.25" fill="#333" stroke="#333" stroke-width="0.15" text-anchor="end" >With only variable</text>
<text x="332.2" y="383" font-size="7.25" fill="#333" stroke="#333" stroke-width="0.15" text-anchor="end" >With all variables</text>
<rect x="336" y="359.3" width="3.6" height="3.3" fill="#10a8a8" stroke="none" stroke-width="1" />
<rect x="336" y="368.7" width="3.6" height="3.4" fill="#1010ff" stroke="none" stroke-width="1" />
<rect x="336" y="378.4" width="3.6" height="3.4" fill="#ff1010" stroke="none" stroke-width="1" />
<line x1="439.3" y1="295" x2="439.3" y2="403.5" stroke="#d2d2d2" stroke-width="1.2" />
<line x1="461.9" y1="295" x2="461.9" y2="403.5" stroke="#d2d2d2" stroke-width="1.2" />
<line x1="484.5" y1="295" x2="484.5" y2="403.5" stroke="#d2d2d2" stroke-width="1.2" />
<line x1="507.1" y1="295" x2="507.1" y2="403.5" stroke="#d2d2d2" stroke-width="1.2" />
<line x1="529.7" y1="295" x2="529.7" y2="403.5" stroke="#d2d2d2" stroke-width="1.2" />
<line x1="552.3" y1="295" x2="552.3" y2="403.5" stroke="#d2d2d2" stroke-width="1.2" />
<line x1="574.9" y1="295" x2="574.9" y2="403.5" stroke="#d2d2d2" stroke-width="1.2" />
<line x1="597.5" y1="295" x2="597.5" y2="403.5" stroke="#d2d2d2" stroke-width="1.2" />
<line x1="620.1" y1="295" x2="620.1" y2="403.5" stroke="#d2d2d2" stroke-width="1.2" />
<line x1="642.7" y1="295" x2="642.7" y2="403.5" stroke="#d2d2d2" stroke-width="1.2" />
<line x1="665.3" y1="295" x2="665.3" y2="403.5" stroke="#d2d2d2" stroke-width="1.2" />
<line x1="420.7" y1="303.3" x2="678.4" y2="303.3" stroke="#d6d6d6" stroke-width="1" />
<line x1="420.7" y1="315.7" x2="678.4" y2="315.7" stroke="#d6d6d6" stroke-width="1" />
<line x1="420.7" y1="328.1" x2="678.4" y2="328.1" stroke="#d6d6d6" stroke-width="1" />
<line x1="420.7" y1="340.5" x2="678.4" y2="340.5" stroke="#d6d6d6" stroke-width="1" />
<line x1="420.7" y1="352.9" x2="678.4" y2="352.9" stroke="#d6d6d6" stroke-width="1" />
<line x1="420.7" y1="365.3" x2="678.4" y2="365.3" stroke="#d6d6d6" stroke-width="1" />
<line x1="420.7" y1="377.7" x2="678.4" y2="377.7" stroke="#d6d6d6" stroke-width="1" />
<rect x="420.7" y="302.2" width="242.7" height="5.8" fill="#00aaa8" stroke="none" stroke-width="1" />
<rect x="420.7" y="301.3" width="184.6" height="5.9" fill="#0000ff" stroke="none" stroke-width="1" />
<text x="412.2" y="306.9" font-size="9.2" fill="#2a2a2a" stroke="#2a2a2a" stroke-width="0.22" text-anchor="end" >Bio_4</text>
<rect x="420.7" y="314.6" width="243.5" height="5.8" fill="#00aaa8" stroke="none" stroke-width="1" />
<rect x="420.7" y="313.7" width="198.9" height="5.9" fill="#0000ff" stroke="none" stroke-width="1" />
<text x="416.7" y="319.3" font-size="9.2" fill="#2a2a2a" stroke="#2a2a2a" stroke-width="0.22" text-anchor="end" >Land_cover</text>
<rect x="420.7" y="327" width="242.7" height="5.8" fill="#00aaa8" stroke="none" stroke-width="1" />
<rect x="420.7" y="326.1" width="119.8" height="5.9" fill="#0000ff" stroke="none" stroke-width="1" />
<text x="416" y="331.7" font-size="9.2" fill="#2a2a2a" stroke="#2a2a2a" stroke-width="0.22" text-anchor="end" >Bio_7</text>
<rect x="420.7" y="339.4" width="242.7" height="5.8" fill="#00aaa8" stroke="none" stroke-width="1" />
<rect x="420.7" y="338.5" width="171.9" height="5.9" fill="#0000ff" stroke="none" stroke-width="1" />
<text x="416.7" y="344.1" font-size="9.2" fill="#2a2a2a" stroke="#2a2a2a" stroke-width="0.22" text-anchor="end" >Bio_18</text>
<rect x="420.7" y="351.8" width="242.7" height="5.8" fill="#00aaa8" stroke="none" stroke-width="1" />
<rect x="420.7" y="350.9" width="177.1" height="5.9" fill="#0000ff" stroke="none" stroke-width="1" />
<text x="416.7" y="356.5" font-size="9.2" fill="#2a2a2a" stroke="#2a2a2a" stroke-width="0.22" text-anchor="end" >Bio_14</text>
<rect x="420.7" y="364.2" width="242.7" height="5.8" fill="#00aaa8" stroke="none" stroke-width="1" />
<rect x="420.7" y="363.3" width="63.8" height="5.9" fill="#0000ff" stroke="none" stroke-width="1" />
<text x="416.7" y="368.9" font-size="9.2" fill="#2a2a2a" stroke="#2a2a2a" stroke-width="0.22" text-anchor="end" >Elevation</text>
<rect x="420.7" y="376.6" width="242.7" height="5.8" fill="#00aaa8" stroke="none" stroke-width="1" />
<rect x="420.7" y="375.7" width="63.8" height="5.9" fill="#0000ff" stroke="none" stroke-width="1" />
<text x="416.7" y="381.3" font-size="9.2" fill="#2a2a2a" stroke="#2a2a2a" stroke-width="0.22" text-anchor="end" >Bio_17</text>
<rect x="420.7" y="387.9" width="242.7" height="5.8" fill="#ff0000" stroke="none" stroke-width="1" />
<rect x="420.7" y="295" width="257.7" height="108.5" fill="none" stroke="#606060" stroke-width="1.2" />
<line x1="439.3" y1="295" x2="439.3" y2="297.4" stroke="#555" stroke-width="0.9" />
<line x1="439.3" y1="403.5" x2="439.3" y2="401.1" stroke="#555" stroke-width="0.9" />
<text x="439.3" y="413.6" font-size="7.2" fill="#555" text-anchor="middle" textLength="12.85" lengthAdjust="spacingAndGlyphs" >0.40</text>
<line x1="461.9" y1="295" x2="461.9" y2="297.4" stroke="#555" stroke-width="0.9" />
<line x1="461.9" y1="403.5" x2="461.9" y2="401.1" stroke="#555" stroke-width="0.9" />
<text x="461.9" y="413.6" font-size="7.2" fill="#555" text-anchor="middle" textLength="12.85" lengthAdjust="spacingAndGlyphs" >0.45</text>
<line x1="484.5" y1="295" x2="484.5" y2="297.4" stroke="#555" stroke-width="0.9" />
<line x1="484.5" y1="403.5" x2="484.5" y2="401.1" stroke="#555" stroke-width="0.9" />
<text x="484.5" y="413.6" font-size="7.2" fill="#555" text-anchor="middle" textLength="12.85" lengthAdjust="spacingAndGlyphs" >0.50</text>
<line x1="507.1" y1="295" x2="507.1" y2="297.4" stroke="#555" stroke-width="0.9" />
<line x1="507.1" y1="403.5" x2="507.1" y2="401.1" stroke="#555" stroke-width="0.9" />
<text x="507.1" y="413.6" font-size="7.2" fill="#555" text-anchor="middle" textLength="12.85" lengthAdjust="spacingAndGlyphs" >0.55</text>
<line x1="529.7" y1="295" x2="529.7" y2="297.4" stroke="#555" stroke-width="0.9" />
<line x1="529.7" y1="403.5" x2="529.7" y2="401.1" stroke="#555" stroke-width="0.9" />
<text x="529.7" y="413.6" font-size="7.2" fill="#555" text-anchor="middle" textLength="12.85" lengthAdjust="spacingAndGlyphs" >0.60</text>
<line x1="552.3" y1="295" x2="552.3" y2="297.4" stroke="#555" stroke-width="0.9" />
<line x1="552.3" y1="403.5" x2="552.3" y2="401.1" stroke="#555" stroke-width="0.9" />
<text x="552.3" y="413.6" font-size="7.2" fill="#555" text-anchor="middle" textLength="12.85" lengthAdjust="spacingAndGlyphs" >0.65</text>
<line x1="574.9" y1="295" x2="574.9" y2="297.4" stroke="#555" stroke-width="0.9" />
<line x1="574.9" y1="403.5" x2="574.9" y2="401.1" stroke="#555" stroke-width="0.9" />
<text x="574.9" y="413.6" font-size="7.2" fill="#555" text-anchor="middle" textLength="12.85" lengthAdjust="spacingAndGlyphs" >0.70</text>
<line x1="597.5" y1="295" x2="597.5" y2="297.4" stroke="#555" stroke-width="0.9" />
<line x1="597.5" y1="403.5" x2="597.5" y2="401.1" stroke="#555" stroke-width="0.9" />
<text x="597.5" y="413.6" font-size="7.2" fill="#555" text-anchor="middle" textLength="12.85" lengthAdjust="spacingAndGlyphs" >0.75</text>
<line x1="620.1" y1="295" x2="620.1" y2="297.4" stroke="#555" stroke-width="0.9" />
<line x1="620.1" y1="403.5" x2="620.1" y2="401.1" stroke="#555" stroke-width="0.9" />
<text x="620.1" y="413.6" font-size="7.2" fill="#555" text-anchor="middle" textLength="12.85" lengthAdjust="spacingAndGlyphs" >0.80</text>
<line x1="642.7" y1="295" x2="642.7" y2="297.4" stroke="#555" stroke-width="0.9" />
<line x1="642.7" y1="403.5" x2="642.7" y2="401.1" stroke="#555" stroke-width="0.9" />
<text x="642.7" y="413.6" font-size="7.2" fill="#555" text-anchor="middle" textLength="12.85" lengthAdjust="spacingAndGlyphs" >0.85</text>
<line x1="665.3" y1="295" x2="665.3" y2="297.4" stroke="#555" stroke-width="0.9" />
<line x1="665.3" y1="403.5" x2="665.3" y2="401.1" stroke="#555" stroke-width="0.9" />
<text x="665.3" y="413.6" font-size="7.2" fill="#555" text-anchor="middle" textLength="12.85" lengthAdjust="spacingAndGlyphs" >0.90</text>
<line x1="420.7" y1="303.3" x2="422.9" y2="303.3" stroke="#555" stroke-width="0.8" />
<line x1="678.4" y1="303.3" x2="676.2" y2="303.3" stroke="#555" stroke-width="0.8" />
<line x1="420.7" y1="315.7" x2="422.9" y2="315.7" stroke="#555" stroke-width="0.8" />
<line x1="678.4" y1="315.7" x2="676.2" y2="315.7" stroke="#555" stroke-width="0.8" />
<line x1="420.7" y1="328.1" x2="422.9" y2="328.1" stroke="#555" stroke-width="0.8" />
<line x1="678.4" y1="328.1" x2="676.2" y2="328.1" stroke="#555" stroke-width="0.8" />
<line x1="420.7" y1="340.5" x2="422.9" y2="340.5" stroke="#555" stroke-width="0.8" />
<line x1="678.4" y1="340.5" x2="676.2" y2="340.5" stroke="#555" stroke-width="0.8" />
<line x1="420.7" y1="352.9" x2="422.9" y2="352.9" stroke="#555" stroke-width="0.8" />
<line x1="678.4" y1="352.9" x2="676.2" y2="352.9" stroke="#555" stroke-width="0.8" />
<line x1="420.7" y1="365.3" x2="422.9" y2="365.3" stroke="#555" stroke-width="0.8" />
<line x1="678.4" y1="365.3" x2="676.2" y2="365.3" stroke="#555" stroke-width="0.8" />
<line x1="420.7" y1="377.7" x2="422.9" y2="377.7" stroke="#555" stroke-width="0.8" />
<line x1="678.4" y1="377.7" x2="676.2" y2="377.7" stroke="#555" stroke-width="0.8" />
<text x="548.6" y="422.2" font-size="6.6" fill="#333" text-anchor="middle" >AUC</text>
<text x="358" y="401" font-size="9" fill="#2a2a2a" stroke="#2a2a2a" stroke-width="0.25" textLength="96" lengthAdjust="spacingAndGlyphs" transform="rotate(-90 358 401)" >Environmental variables</text>
<line x1="38.4" y1="485.8" x2="38.4" y2="549.3" stroke="#d2d2d2" stroke-width="0.9" />
<line x1="138.1" y1="485.8" x2="138.1" y2="549.3" stroke="#d2d2d2" stroke-width="0.9" />
<line x1="22.7" y1="503.9" x2="154.5" y2="503.9" stroke="#d2d2d2" stroke-width="0.9" />
<line x1="22.7" y1="525.6" x2="154.5" y2="525.6" stroke="#d2d2d2" stroke-width="0.9" />
<line x1="22.7" y1="547.2" x2="154.5" y2="547.2" stroke="#d2d2d2" stroke-width="0.9" />
<defs><clipPath id="vc1"><rect x="0" y="0" width="148.6" height="681"/></clipPath></defs>
<g clip-path="url(#vc1)"><path d="M27.12,545.97 L58.34,499.52 L60.66,501.08 L29.28,547.43Z M59,498.99 L61.1,498.19 L62.1,500.81 L60,501.61Z M61.05,498.21 L70.75,494.11 L71.85,496.69 L62.15,500.79Z M70.77,494.1 L81.07,489.9 L82.13,492.5 L71.83,496.7Z M81.53,489.8 L91.93,489.3 L92.07,492.1 L81.67,492.6Z M91.72,489.33 L98,487.93 L98.6,490.87 L92.28,492.07Z M98.89,488.02 L109.27,492.24 L107.93,495.36 L97.71,490.78Z M109.16,492.2 L129.81,498.97 L128.39,503.03 L108.04,495.4Z M129.73,498.95 L148.34,504.31 L146.86,509.09 L128.47,503.05Z" fill="#0000ff" stroke="#0000ff" stroke-width="0.4"/><path d="M26.9,546.7 a1.3,1.3 0 1,0 2.6,0 a1.3,1.3 0 1,0 -2.6,0Z M58.1,500.3 a1.4,1.4 0 1,0 2.8,0 a1.4,1.4 0 1,0 -2.8,0Z M60.2,499.5 a1.4,1.4 0 1,0 2.8,0 a1.4,1.4 0 1,0 -2.8,0Z M69.9,495.4 a1.4,1.4 0 1,0 2.8,0 a1.4,1.4 0 1,0 -2.8,0Z M80.2,491.2 a1.4,1.4 0 1,0 2.8,0 a1.4,1.4 0 1,0 -2.8,0Z M90.6,490.7 a1.4,1.4 0 1,0 2.8,0 a1.4,1.4 0 1,0 -2.8,0Z M96.8,489.4 a1.5,1.5 0 1,0 3,0 a1.5,1.5 0 1,0 -3,0Z M106.9,493.8 a1.7,1.7 0 1,0 3.4,0 a1.7,1.7 0 1,0 -3.4,0Z M126.95,501 a2.15,2.15 0 1,0 4.3,0 a2.15,2.15 0 1,0 -4.3,0Z M145.1,506.7 a2.5,2.5 0 1,0 5,0 a2.5,2.5 0 1,0 -5,0Z" fill="#0000ff"/></g>
<polyline points="28.2,546.7 59.5,500.3 61.6,499.5 71.3,495.4 81.6,491.2 92,490.7 98.3,489.4 108.6,493.8 129.1,501 147.6,506.7" fill="none" stroke="#bf2a66" stroke-width="1.9" stroke-linejoin="round" stroke-linecap="round" />
<rect x="22.7" y="485.8" width="131.8" height="63.5" fill="none" stroke="#4a4a4a" stroke-width="1.6" />
<line x1="38.4" y1="485.8" x2="38.4" y2="488.8" stroke="#333" stroke-width="1.1" />
<line x1="38.4" y1="549.3" x2="38.4" y2="546.3" stroke="#333" stroke-width="1.1" />
<line x1="138.1" y1="485.8" x2="138.1" y2="488.8" stroke="#333" stroke-width="1.1" />
<line x1="138.1" y1="549.3" x2="138.1" y2="546.3" stroke="#333" stroke-width="1.1" />
<line x1="22.7" y1="503.9" x2="25.9" y2="503.9" stroke="#333" stroke-width="1.1" />
<line x1="154.5" y1="503.9" x2="151.3" y2="503.9" stroke="#333" stroke-width="1.1" />
<line x1="22.7" y1="525.6" x2="25.9" y2="525.6" stroke="#333" stroke-width="1.1" />
<line x1="154.5" y1="525.6" x2="151.3" y2="525.6" stroke="#333" stroke-width="1.1" />
<line x1="22.7" y1="547.2" x2="25.9" y2="547.2" stroke="#333" stroke-width="1.1" />
<line x1="154.5" y1="547.2" x2="151.3" y2="547.2" stroke="#333" stroke-width="1.1" />
<text x="75.9" y="481.4" font-size="9.2" fill="#1a1a1a" font-weight="bold" textLength="23.4" lengthAdjust="spacingAndGlyphs" >bio_4</text>
<text x="38.4" y="560.7" font-size="8.3" fill="#2a2a2a" text-anchor="middle" textLength="11.76" lengthAdjust="spacingAndGlyphs" stroke="#2a2a2a" stroke-width="0.28">151</text>
<text x="138.1" y="560.7" font-size="8.3" fill="#2a2a2a" text-anchor="middle" textLength="15.68" lengthAdjust="spacingAndGlyphs" stroke="#2a2a2a" stroke-width="0.28">2488</text>
<text x="18.6" y="506.5" font-size="7.2" fill="#2a2a2a" text-anchor="end" textLength="6.67" lengthAdjust="spacingAndGlyphs" stroke="#2a2a2a" stroke-width="0.28">10</text>
<text x="18.6" y="528.2" font-size="7.2" fill="#2a2a2a" text-anchor="end" textLength="3.34" lengthAdjust="spacingAndGlyphs" stroke="#2a2a2a" stroke-width="0.28">5</text>
<text x="18.6" y="549.8" font-size="7.2" fill="#2a2a2a" text-anchor="end" textLength="3.34" lengthAdjust="spacingAndGlyphs" stroke="#2a2a2a" stroke-width="0.28">0</text>
<line x1="200.1" y1="486.3" x2="200.1" y2="549.2" stroke="#d2d2d2" stroke-width="0.9" />
<line x1="301.9" y1="486.3" x2="301.9" y2="549.2" stroke="#d2d2d2" stroke-width="0.9" />
<line x1="183.1" y1="494.2" x2="317.1" y2="494.2" stroke="#d2d2d2" stroke-width="0.9" />
<line x1="183.1" y1="507.3" x2="317.1" y2="507.3" stroke="#d2d2d2" stroke-width="0.9" />
<line x1="183.1" y1="520.9" x2="317.1" y2="520.9" stroke="#d2d2d2" stroke-width="0.9" />
<line x1="183.1" y1="534" x2="317.1" y2="534" stroke="#d2d2d2" stroke-width="0.9" />
<line x1="183.1" y1="546.9" x2="317.1" y2="546.9" stroke="#d2d2d2" stroke-width="0.9" />
<defs><clipPath id="vc2"><rect x="0" y="0" width="312.6" height="681"/></clipPath></defs>
<g clip-path="url(#vc2)"><path d="M188.45,545.69 L192.82,536.11 L196.18,537.89 L190.75,546.91Z M192.82,536.12 L198.08,524.74 L202.52,527.06 L196.18,537.88Z M198.07,524.78 L209.28,500.99 L214.92,503.81 L202.53,527.02Z M209.69,500.37 L217.47,490.31 L223.13,495.09 L214.51,504.43Z M222.49,489.72 L229.98,495.48 L225.82,501.12 L218.11,495.68Z M229.87,495.41 L238.02,501.09 L234.18,506.71 L225.93,501.19Z M236.22,500.5 L250.12,501.2 L249.88,507.6 L235.98,507.3Z M250,501.2 L259.2,501.2 L259.2,507.6 L250,507.6Z M258.34,501.32 L265.46,499.03 L267.34,505.77 L260.06,507.48Z M265.57,499 L274.1,496.61 L275.9,503.99 L267.23,505.8Z M276.77,496.94 L287.62,502.55 L283.98,509.45 L273.23,503.66Z M287.33,502.41 L301.67,508.42 L298.53,515.78 L284.27,509.59Z M301.83,508.49 L313.79,513.55 L309.81,521.85 L298.37,515.71Z" fill="#0000ff" stroke="#0000ff" stroke-width="0.4"/><path d="M188.3,546.3 a1.3,1.3 0 1,0 2.6,0 a1.3,1.3 0 1,0 -2.6,0Z M192.6,537 a1.9,1.9 0 1,0 3.8,0 a1.9,1.9 0 1,0 -3.8,0Z M197.8,525.9 a2.5,2.5 0 1,0 5,0 a2.5,2.5 0 1,0 -5,0Z M208.95,502.4 a3.15,3.15 0 1,0 6.3,0 a3.15,3.15 0 1,0 -6.3,0Z M216.6,492.7 a3.7,3.7 0 1,0 7.4,0 a3.7,3.7 0 1,0 -7.4,0Z M224.4,498.3 a3.5,3.5 0 1,0 7,0 a3.5,3.5 0 1,0 -7,0Z M232.7,503.9 a3.4,3.4 0 1,0 6.8,0 a3.4,3.4 0 1,0 -6.8,0Z M246.8,504.4 a3.2,3.2 0 1,0 6.4,0 a3.2,3.2 0 1,0 -6.4,0Z M256,504.4 a3.2,3.2 0 1,0 6.4,0 a3.2,3.2 0 1,0 -6.4,0Z M262.9,502.4 a3.5,3.5 0 1,0 7,0 a3.5,3.5 0 1,0 -7,0Z M271.2,500.3 a3.8,3.8 0 1,0 7.6,0 a3.8,3.8 0 1,0 -7.6,0Z M281.9,506 a3.9,3.9 0 1,0 7.8,0 a3.9,3.9 0 1,0 -7.8,0Z M296.1,512.1 a4,4 0 1,0 8,0 a4,4 0 1,0 -8,0Z M307.2,517.7 a4.6,4.6 0 1,0 9.2,0 a4.6,4.6 0 1,0 -9.2,0Z" fill="#0000ff"/></g>
<polyline points="189.6,546.3 194.5,537 200.3,525.9 212.1,502.4 220.3,492.7 227.9,498.3 236.1,503.9 250,504.4 259.2,504.4 266.4,502.4 275,500.3 285.8,506 300.1,512.1 311.8,517.7" fill="none" stroke="#bf2a66" stroke-width="1.9" stroke-linejoin="round" stroke-linecap="round" />
<rect x="183.1" y="486.3" width="134" height="62.9" fill="none" stroke="#4a4a4a" stroke-width="1.6" />
<line x1="200.1" y1="486.3" x2="200.1" y2="489.3" stroke="#333" stroke-width="1.1" />
<line x1="200.1" y1="549.2" x2="200.1" y2="546.2" stroke="#333" stroke-width="1.1" />
<line x1="301.9" y1="486.3" x2="301.9" y2="489.3" stroke="#333" stroke-width="1.1" />
<line x1="301.9" y1="549.2" x2="301.9" y2="546.2" stroke="#333" stroke-width="1.1" />
<line x1="183.1" y1="494.2" x2="186.3" y2="494.2" stroke="#333" stroke-width="1.1" />
<line x1="317.1" y1="494.2" x2="313.9" y2="494.2" stroke="#333" stroke-width="1.1" />
<line x1="183.1" y1="507.3" x2="186.3" y2="507.3" stroke="#333" stroke-width="1.1" />
<line x1="317.1" y1="507.3" x2="313.9" y2="507.3" stroke="#333" stroke-width="1.1" />
<line x1="183.1" y1="520.9" x2="186.3" y2="520.9" stroke="#333" stroke-width="1.1" />
<line x1="317.1" y1="520.9" x2="313.9" y2="520.9" stroke="#333" stroke-width="1.1" />
<line x1="183.1" y1="534" x2="186.3" y2="534" stroke="#333" stroke-width="1.1" />
<line x1="317.1" y1="534" x2="313.9" y2="534" stroke="#333" stroke-width="1.1" />
<line x1="183.1" y1="546.9" x2="186.3" y2="546.9" stroke="#333" stroke-width="1.1" />
<line x1="317.1" y1="546.9" x2="313.9" y2="546.9" stroke="#333" stroke-width="1.1" />
<text x="235.6" y="481.3" font-size="9.2" fill="#1a1a1a" font-weight="bold" textLength="29" lengthAdjust="spacingAndGlyphs" >bio_14</text>
<text x="200.1" y="560.6" font-size="8.3" fill="#2a2a2a" text-anchor="middle" textLength="21.56" lengthAdjust="spacingAndGlyphs" stroke="#2a2a2a" stroke-width="0.28">51.099</text>
<text x="301.9" y="560.6" font-size="8.3" fill="#2a2a2a" text-anchor="middle" textLength="21.56" lengthAdjust="spacingAndGlyphs" stroke="#2a2a2a" stroke-width="0.28">178.77</text>
<text x="179.9" y="496.8" font-size="7.2" fill="#2a2a2a" text-anchor="end" textLength="3.34" lengthAdjust="spacingAndGlyphs" stroke="#2a2a2a" stroke-width="0.28">8</text>
<text x="179.9" y="509.9" font-size="7.2" fill="#2a2a2a" text-anchor="end" textLength="3.34" lengthAdjust="spacingAndGlyphs" stroke="#2a2a2a" stroke-width="0.28">6</text>
<text x="179.9" y="523.5" font-size="7.2" fill="#2a2a2a" text-anchor="end" textLength="3.34" lengthAdjust="spacingAndGlyphs" stroke="#2a2a2a" stroke-width="0.28">4</text>
<text x="179.9" y="536.6" font-size="7.2" fill="#2a2a2a" text-anchor="end" textLength="3.34" lengthAdjust="spacingAndGlyphs" stroke="#2a2a2a" stroke-width="0.28">2</text>
<text x="179.9" y="549.5" font-size="7.2" fill="#2a2a2a" text-anchor="end" textLength="3.34" lengthAdjust="spacingAndGlyphs" stroke="#2a2a2a" stroke-width="0.28">0</text>
<line x1="38.5" y1="591" x2="38.5" y2="658" stroke="#d2d2d2" stroke-width="0.9" />
<line x1="144" y1="591" x2="144" y2="658" stroke="#d2d2d2" stroke-width="0.9" />
<line x1="22.3" y1="605.2" x2="161.3" y2="605.2" stroke="#d2d2d2" stroke-width="0.9" />
<line x1="22.3" y1="627" x2="161.3" y2="627" stroke="#d2d2d2" stroke-width="0.9" />
<line x1="22.3" y1="648.9" x2="161.3" y2="648.9" stroke="#d2d2d2" stroke-width="0.9" />
<defs><clipPath id="vc3"><rect x="0" y="0" width="155" height="681"/></clipPath></defs>
<g clip-path="url(#vc3)"><path d="M27.33,625.38 L37.53,618.84 L39.27,621.76 L28.67,627.62Z M37.6,618.8 L53.69,609.43 L55.91,613.57 L39.2,621.8Z M53.87,609.34 L70.05,601.51 L72.55,607.29 L55.73,613.66Z M70.28,601.42 L82.07,596.7 L84.53,603.9 L72.32,607.38Z M82.52,596.58 L91.52,594.19 L93.28,602.61 L84.08,604.02Z M93.87,594.36 L98.24,596.05 L95.36,603.95 L90.93,602.44Z M98.57,596.19 L111.59,602.47 L108.21,609.73 L95.03,603.81Z M111.37,602.38 L127.63,609.25 L124.97,615.95 L108.43,609.82Z M129.19,610.46 L136.57,621.1 L131.43,624.9 L123.41,614.74Z M136.64,621.19 L146.27,635.6 L141.33,639 L131.36,624.81Z M146.19,635.49 L156.25,648.47 L151.15,652.33 L141.41,639.11Z" fill="#0000ff" stroke="#0000ff" stroke-width="0.4"/><path d="M26.7,626.5 a1.3,1.3 0 1,0 2.6,0 a1.3,1.3 0 1,0 -2.6,0Z M36.7,620.3 a1.7,1.7 0 1,0 3.4,0 a1.7,1.7 0 1,0 -3.4,0Z M52.45,611.5 a2.35,2.35 0 1,0 4.7,0 a2.35,2.35 0 1,0 -4.7,0Z M68.15,604.4 a3.15,3.15 0 1,0 6.3,0 a3.15,3.15 0 1,0 -6.3,0Z M79.5,600.3 a3.8,3.8 0 1,0 7.6,0 a3.8,3.8 0 1,0 -7.6,0Z M88.1,598.4 a4.3,4.3 0 1,0 8.6,0 a4.3,4.3 0 1,0 -8.6,0Z M92.6,600 a4.2,4.2 0 1,0 8.4,0 a4.2,4.2 0 1,0 -8.4,0Z M105.9,606.1 a4,4 0 1,0 8,0 a4,4 0 1,0 -8,0Z M122.7,612.6 a3.6,3.6 0 1,0 7.2,0 a3.6,3.6 0 1,0 -7.2,0Z M130.8,623 a3.2,3.2 0 1,0 6.4,0 a3.2,3.2 0 1,0 -6.4,0Z M140.8,637.3 a3,3 0 1,0 6,0 a3,3 0 1,0 -6,0Z M150.5,650.4 a3.2,3.2 0 1,0 6.4,0 a3.2,3.2 0 1,0 -6.4,0Z" fill="#0000ff"/></g>
<polyline points="28,626.5 38.4,620.3 54.8,611.5 71.3,604.4 83.3,600.3 92.4,598.4 96.8,600 109.9,606.1 126.3,612.6 134,623 143.8,637.3 153.7,650.4" fill="none" stroke="#bf2a66" stroke-width="1.9" stroke-linejoin="round" stroke-linecap="round" />
<rect x="22.3" y="591" width="139" height="67" fill="none" stroke="#4a4a4a" stroke-width="1.6" />
<line x1="38.5" y1="591" x2="38.5" y2="594" stroke="#333" stroke-width="1.1" />
<line x1="38.5" y1="658" x2="38.5" y2="655" stroke="#333" stroke-width="1.1" />
<line x1="144" y1="591" x2="144" y2="594" stroke="#333" stroke-width="1.1" />
<line x1="144" y1="658" x2="144" y2="655" stroke="#333" stroke-width="1.1" />
<line x1="22.3" y1="605.2" x2="25.5" y2="605.2" stroke="#333" stroke-width="1.1" />
<line x1="161.3" y1="605.2" x2="158.1" y2="605.2" stroke="#333" stroke-width="1.1" />
<line x1="22.3" y1="627" x2="25.5" y2="627" stroke="#333" stroke-width="1.1" />
<line x1="161.3" y1="627" x2="158.1" y2="627" stroke="#333" stroke-width="1.1" />
<line x1="22.3" y1="648.9" x2="25.5" y2="648.9" stroke="#333" stroke-width="1.1" />
<line x1="161.3" y1="648.9" x2="158.1" y2="648.9" stroke="#333" stroke-width="1.1" />
<text x="75" y="586.1" font-size="9.2" fill="#1a1a1a" font-weight="bold" textLength="30.5" lengthAdjust="spacingAndGlyphs" >bio_18</text>
<text x="38.5" y="669.9" font-size="8.3" fill="#2a2a2a" text-anchor="middle" textLength="17.64" lengthAdjust="spacingAndGlyphs" stroke="#2a2a2a" stroke-width="0.28">3.644</text>
<text x="144" y="669.9" font-size="8.3" fill="#2a2a2a" text-anchor="middle" textLength="21.56" lengthAdjust="spacingAndGlyphs" stroke="#2a2a2a" stroke-width="0.28">30.374</text>
<text x="18.6" y="607.8" font-size="7.2" fill="#2a2a2a" text-anchor="end" textLength="3.34" lengthAdjust="spacingAndGlyphs" stroke="#2a2a2a" stroke-width="0.28">5</text>
<text x="18.6" y="629.6" font-size="7.2" fill="#2a2a2a" text-anchor="end" textLength="3.34" lengthAdjust="spacingAndGlyphs" stroke="#2a2a2a" stroke-width="0.28">0</text>
<text x="18.6" y="651.5" font-size="7.2" fill="#2a2a2a" text-anchor="end" textLength="5.34" lengthAdjust="spacingAndGlyphs" stroke="#2a2a2a" stroke-width="0.28">-5</text>
<line x1="198" y1="591" x2="198" y2="659.3" stroke="#d2d2d2" stroke-width="0.9" />
<line x1="305.8" y1="591" x2="305.8" y2="659.3" stroke="#d2d2d2" stroke-width="0.9" />
<line x1="181.2" y1="606.4" x2="322.6" y2="606.4" stroke="#d2d2d2" stroke-width="0.9" />
<line x1="181.2" y1="623.3" x2="322.6" y2="623.3" stroke="#d2d2d2" stroke-width="0.9" />
<line x1="181.2" y1="640.2" x2="322.6" y2="640.2" stroke="#d2d2d2" stroke-width="0.9" />
<line x1="181.2" y1="656.8" x2="322.6" y2="656.8" stroke="#d2d2d2" stroke-width="0.9" />
<defs><clipPath id="vc4"><rect x="0" y="0" width="317" height="681"/></clipPath></defs>
<g clip-path="url(#vc4)"><path d="M186.5,622.17 L197.73,617.32 L199.07,621.08 L187.3,624.43Z M197.88,617.27 L213.89,611.42 L215.71,618.18 L198.92,621.13Z M213.74,611.46 L228.77,605.42 L231.63,614.38 L215.86,618.14Z M230.2,605.2 L240,605.7 L240,614.1 L230.2,614.6Z M240.17,605.7 L252.6,607.8 L252.4,613 L239.83,614.1Z M250.75,608.47 L256.15,603.57 L259.65,607.43 L254.25,612.33Z M255.98,603.74 L262.26,596.44 L266.54,600.36 L259.82,607.26Z M266.13,596.07 L277.13,604.27 L273.67,608.93 L262.67,600.73Z M277.55,604.65 L293.95,622.75 L289.65,626.65 L273.25,608.55Z M293.9,622.7 L307.29,636.12 L302.51,640.68 L289.7,626.7Z M307.33,636.17 L318.7,647.83 L313.1,652.97 L302.47,640.63Z" fill="#0000ff" stroke="#0000ff" stroke-width="0.4"/><path d="M185.7,623.3 a1.2,1.2 0 1,0 2.4,0 a1.2,1.2 0 1,0 -2.4,0Z M196.4,619.2 a2,2 0 1,0 4,0 a2,2 0 1,0 -4,0Z M211.3,614.8 a3.5,3.5 0 1,0 7,0 a3.5,3.5 0 1,0 -7,0Z M225.5,609.9 a4.7,4.7 0 1,0 9.4,0 a4.7,4.7 0 1,0 -9.4,0Z M235.8,609.9 a4.2,4.2 0 1,0 8.4,0 a4.2,4.2 0 1,0 -8.4,0Z M249.9,610.4 a2.6,2.6 0 1,0 5.2,0 a2.6,2.6 0 1,0 -5.2,0Z M255.3,605.5 a2.6,2.6 0 1,0 5.2,0 a2.6,2.6 0 1,0 -5.2,0Z M261.5,598.4 a2.9,2.9 0 1,0 5.8,0 a2.9,2.9 0 1,0 -5.8,0Z M272.5,606.6 a2.9,2.9 0 1,0 5.8,0 a2.9,2.9 0 1,0 -5.8,0Z M288.9,624.7 a2.9,2.9 0 1,0 5.8,0 a2.9,2.9 0 1,0 -5.8,0Z M301.6,638.4 a3.3,3.3 0 1,0 6.6,0 a3.3,3.3 0 1,0 -6.6,0Z M312.1,650.4 a3.8,3.8 0 1,0 7.6,0 a3.8,3.8 0 1,0 -7.6,0Z" fill="#0000ff"/></g>
<polyline points="186.9,623.3 198.4,619.2 214.8,614.8 230.2,609.9 240,609.9 252.5,610.4 257.9,605.5 264.4,598.4 275.4,606.6 291.8,624.7 304.9,638.4 315.9,650.4" fill="none" stroke="#bf2a66" stroke-width="1.9" stroke-linejoin="round" stroke-linecap="round" />
<rect x="181.2" y="591" width="141.4" height="68.3" fill="none" stroke="#4a4a4a" stroke-width="1.6" />
<line x1="198" y1="591" x2="198" y2="594" stroke="#333" stroke-width="1.1" />
<line x1="198" y1="659.3" x2="198" y2="656.3" stroke="#333" stroke-width="1.1" />
<line x1="305.8" y1="591" x2="305.8" y2="594" stroke="#333" stroke-width="1.1" />
<line x1="305.8" y1="659.3" x2="305.8" y2="656.3" stroke="#333" stroke-width="1.1" />
<line x1="181.2" y1="606.4" x2="184.4" y2="606.4" stroke="#333" stroke-width="1.1" />
<line x1="322.6" y1="606.4" x2="319.4" y2="606.4" stroke="#333" stroke-width="1.1" />
<line x1="181.2" y1="623.3" x2="184.4" y2="623.3" stroke="#333" stroke-width="1.1" />
<line x1="322.6" y1="623.3" x2="319.4" y2="623.3" stroke="#333" stroke-width="1.1" />
<line x1="181.2" y1="640.2" x2="184.4" y2="640.2" stroke="#333" stroke-width="1.1" />
<line x1="322.6" y1="640.2" x2="319.4" y2="640.2" stroke="#333" stroke-width="1.1" />
<line x1="181.2" y1="656.8" x2="184.4" y2="656.8" stroke="#333" stroke-width="1.1" />
<line x1="322.6" y1="656.8" x2="319.4" y2="656.8" stroke="#333" stroke-width="1.1" />
<text x="235" y="586" font-size="9.2" fill="#1a1a1a" font-weight="bold" textLength="31.3" lengthAdjust="spacingAndGlyphs" >bio_17</text>
<text x="198" y="671.3" font-size="8.3" fill="#2a2a2a" text-anchor="middle" textLength="17.64" lengthAdjust="spacingAndGlyphs" stroke="#2a2a2a" stroke-width="0.28">9.044</text>
<text x="305.8" y="671.3" font-size="8.3" fill="#2a2a2a" text-anchor="middle" textLength="21.56" lengthAdjust="spacingAndGlyphs" stroke="#2a2a2a" stroke-width="0.28">19.652</text>
<text x="64.4" y="576.9" font-size="14.8" fill="#1e1e1e" textLength="8.6" lengthAdjust="spacingAndGlyphs" stroke="#1e1e1e" stroke-width="0.35">B</text>
<line x1="386.4" y1="479" x2="386.4" y2="543" stroke="#d2d2d2" stroke-width="0.9" />
<line x1="483.2" y1="479" x2="483.2" y2="543" stroke="#d2d2d2" stroke-width="0.9" />
<line x1="371.1" y1="482.2" x2="500.1" y2="482.2" stroke="#d2d2d2" stroke-width="0.9" />
<line x1="371.1" y1="512" x2="500.1" y2="512" stroke="#d2d2d2" stroke-width="0.9" />
<line x1="371.1" y1="541" x2="500.1" y2="541" stroke="#d2d2d2" stroke-width="0.9" />
<path d="M376.79,539.4 L377.86,539.39 L379.28,539.4 L380.98,539.4 L382.88,539.4 L384.89,539.4 L386.94,539.39 L388.94,539.37 L390.81,539.33 L392.48,539.28 L393.84,539.2 L394.96,539.07 L395.93,538.93 L396.77,538.77 L397.51,538.59 L398.15,538.41 L398.73,538.21 L399.27,538.01 L399.79,537.8 L400.3,537.58 L400.84,537.36 L401.33,537.14 L401.75,536.93 L402.1,536.73 L402.4,536.54 L402.64,536.35 L402.85,536.16 L403.02,535.97 L403.19,535.75 L403.36,535.5 L403.55,535.2 L403.6,534.92 L403.66,534.55 L403.72,534.1 L403.79,533.59 L403.86,533.03 L403.93,532.43 L404.03,531.79 L404.16,531.12 L404.33,530.42 L404.59,529.68 L404.89,529.12 L405.2,528.62 L405.5,528.16 L405.79,527.76 L406.07,527.4 L406.32,527.06 L406.57,526.73 L406.83,526.37 L407.12,525.96 L407.44,525.48 L407.94,524.83 L408.47,524.15 L409.02,523.45 L409.59,522.72 L410.18,521.96 L410.77,521.17 L411.36,520.36 L411.94,519.52 L412.5,518.66 L413.04,517.78 L413.61,516.84 L414.2,515.8 L414.81,514.69 L415.42,513.52 L416.04,512.32 L416.65,511.11 L417.26,509.89 L417.85,508.7 L418.43,507.54 L418.99,506.44 L419.55,505.45 L420.09,504.47 L420.62,503.49 L421.14,502.53 L421.65,501.59 L422.15,500.66 L422.65,499.76 L423.14,498.89 L423.64,498.05 L424.13,497.24 L424.59,496.5 L425.05,495.77 L425.49,495.07 L425.94,494.39 L426.38,493.73 L426.82,493.12 L427.27,492.53 L427.73,491.99 L428.2,491.49 L428.68,491.04 L429.14,490.62 L429.59,490.28 L430.06,490.01 L430.52,489.8 L430.98,489.66 L431.41,489.56 L431.82,489.5 L432.22,489.45 L432.62,489.39 L433.04,489.33 L433.6,489.22 L434.17,489.14 L434.75,489.08 L435.34,489.03 L435.94,488.99 L436.55,488.95 L437.16,488.91 L437.78,488.86 L438.41,488.79 L439.03,488.71 L439.67,488.59 L440.38,488.44 L441.15,488.26 L441.95,488.07 L442.76,487.87 L443.57,487.69 L444.36,487.53 L445.13,487.4 L445.86,487.32 L446.58,487.3 L447.07,487.31 L447.52,487.34 L447.98,487.4 L448.45,487.53 L448.92,487.76 L449.33,488.05 L449.68,488.38 L450,488.74 L450.33,489.14 L450.7,489.61 L451.21,490.24 L451.72,490.97 L452.24,491.77 L452.78,492.64 L453.33,493.56 L453.89,494.5 L454.44,495.45 L454.99,496.38 L455.53,497.28 L456.05,498.13 L456.56,498.97 L457.08,499.82 L457.6,500.67 L458.11,501.52 L458.62,502.36 L459.14,503.21 L459.65,504.04 L460.16,504.87 L460.67,505.69 L461.18,506.5 L461.69,507.33 L462.2,508.16 L462.71,508.99 L463.21,509.81 L463.71,510.62 L464.21,511.41 L464.7,512.18 L465.19,512.92 L465.67,513.63 L466.15,514.31 L466.61,514.98 L467.06,515.62 L467.51,516.23 L467.94,516.82 L468.38,517.39 L468.82,517.95 L469.27,518.5 L469.73,519.05 L470.2,519.59 L470.7,520.15 L471.2,520.72 L471.72,521.31 L472.26,521.89 L472.81,522.47 L473.37,523.04 L473.93,523.6 L474.49,524.14 L475.04,524.66 L475.59,525.16 L476.12,525.62 L476.63,526.03 L477.17,526.43 L477.72,526.82 L478.27,527.2 L478.83,527.56 L479.39,527.92 L479.94,528.25 L480.47,528.58 L480.99,528.89 L481.49,529.18 L482.05,529.56 L482.51,529.9 L482.85,530.19 L483.09,530.39 L483.22,530.5 L483.29,530.55 L483.36,530.6 L483.51,530.66 L483.8,530.74 L484.25,530.82 L484.87,530.88 L485.74,530.92 L486.77,530.94 L487.91,530.94 L489.09,530.92 L490.25,530.89 L491.36,530.86 L492.37,530.83 L493.22,530.81 L493.9,530.8 L493.9,536 L493.33,536.01 L492.52,536.03 L491.52,536.06 L490.39,536.09 L489.19,536.12 L487.96,536.14 L486.74,536.14 L485.59,536.12 L484.52,536.07 L483.55,535.98 L482.76,535.85 L482.03,535.69 L481.37,535.46 L480.76,535.18 L480.24,534.88 L479.83,534.59 L479.51,534.35 L479.26,534.16 L479.01,533.99 L478.71,533.82 L478.22,533.52 L477.69,533.21 L477.13,532.87 L476.53,532.5 L475.92,532.11 L475.28,531.7 L474.64,531.26 L473.98,530.79 L473.33,530.3 L472.68,529.78 L472.05,529.26 L471.41,528.71 L470.78,528.15 L470.14,527.56 L469.51,526.96 L468.88,526.34 L468.26,525.72 L467.66,525.1 L467.07,524.47 L466.5,523.85 L465.97,523.22 L465.45,522.6 L464.95,521.97 L464.47,521.34 L463.99,520.71 L463.52,520.06 L463.06,519.4 L462.59,518.72 L462.13,518.02 L461.65,517.29 L461.17,516.51 L460.7,515.7 L460.23,514.87 L459.77,514.03 L459.3,513.18 L458.84,512.32 L458.38,511.46 L457.92,510.6 L457.47,509.74 L457.02,508.9 L456.57,508.03 L456.12,507.15 L455.67,506.27 L455.22,505.38 L454.78,504.5 L454.33,503.61 L453.88,502.72 L453.44,501.84 L453,500.95 L452.55,500.07 L452.1,499.14 L451.63,498.16 L451.17,497.17 L450.7,496.18 L450.24,495.2 L449.8,494.27 L449.37,493.4 L448.97,492.61 L448.61,491.94 L448.3,491.39 L447.96,490.91 L447.71,490.54 L447.52,490.29 L447.42,490.15 L447.39,490.1 L447.39,490.08 L447.34,490.05 L447.17,490 L446.87,489.95 L446.42,489.9 L446.01,489.89 L445.46,489.94 L444.8,490.03 L444.08,490.16 L443.3,490.31 L442.5,490.49 L441.69,490.66 L440.89,490.83 L440.12,490.97 L439.37,491.09 L438.68,491.18 L438,491.25 L437.34,491.3 L436.71,491.34 L436.1,491.38 L435.52,491.43 L434.97,491.47 L434.45,491.52 L433.98,491.59 L433.56,491.67 L433.07,491.79 L432.65,491.89 L432.29,491.97 L431.99,492.06 L431.75,492.14 L431.55,492.23 L431.37,492.34 L431.19,492.49 L430.97,492.69 L430.72,492.96 L430.43,493.3 L430.13,493.72 L429.82,494.19 L429.49,494.73 L429.16,495.32 L428.82,495.95 L428.46,496.64 L428.1,497.35 L427.72,498.11 L427.33,498.89 L426.98,499.68 L426.62,500.53 L426.25,501.41 L425.87,502.34 L425.48,503.3 L425.08,504.29 L424.67,505.32 L424.24,506.36 L423.78,507.43 L423.31,508.52 L422.8,509.61 L422.27,510.77 L421.71,511.99 L421.13,513.23 L420.55,514.49 L419.95,515.74 L419.34,516.98 L418.74,518.18 L418.13,519.33 L417.52,520.41 L416.86,521.42 L416.19,522.38 L415.51,523.29 L414.83,524.17 L414.16,524.99 L413.51,525.77 L412.89,526.5 L412.3,527.17 L411.76,527.8 L411.28,528.36 L410.8,528.91 L410.37,529.38 L409.97,529.77 L409.62,530.1 L409.31,530.38 L409.02,530.63 L408.77,530.86 L408.53,531.1 L408.29,531.38 L408.03,531.71 L407.84,532.08 L407.64,532.53 L407.45,533.03 L407.27,533.57 L407.07,534.13 L406.87,534.71 L406.65,535.29 L406.4,535.86 L406.1,536.42 L405.74,536.95 L405.4,537.34 L405.05,537.69 L404.68,538 L404.29,538.27 L403.89,538.51 L403.48,538.73 L403.04,538.91 L402.58,539.09 L402.09,539.26 L401.56,539.44 L401.03,539.6 L400.48,539.76 L399.91,539.93 L399.3,540.09 L398.63,540.24 L397.9,540.39 L397.08,540.52 L396.16,540.63 L395.13,540.72 L393.96,540.8 L392.54,540.88 L390.85,540.93 L388.96,540.97 L386.95,540.99 L384.9,541 L382.88,541 L380.98,541 L379.28,541 L377.86,540.99 L376.81,541 Z" fill="#0000ff" stroke="#0000ff" stroke-width="0.5" stroke-linejoin="round"/>
<path d="M376.8,540.2 C379.65,540.17 389.83,540.3 393.9,540 C397.97,539.7 399.38,539.03 401.2,538.4 C403.02,537.77 403.83,537.42 404.8,536.2 C405.77,534.98 406.13,532.57 407,531.1 C407.87,529.63 408.53,529.35 410,527.4 C411.47,525.45 413.87,522.68 415.8,519.4 C417.73,516.12 419.9,511.23 421.6,507.7 C423.3,504.17 424.65,500.82 426,498.2 C427.35,495.58 428.48,493.28 429.7,492 C430.92,490.72 431.72,490.85 433.3,490.5 C434.88,490.15 437,490.22 439.2,489.9 C441.4,489.58 444.78,488.5 446.5,488.6 C448.22,488.7 448.2,488.75 449.5,490.5 C450.8,492.25 452.7,496.23 454.3,499.1 C455.9,501.97 457.5,504.92 459.1,507.7 C460.7,510.48 462.32,513.42 463.9,515.8 C465.48,518.18 466.85,520.02 468.6,522 C470.35,523.98 472.48,526.12 474.4,527.7 C476.32,529.28 478.52,530.55 480.1,531.5 C481.68,532.45 481.6,533.08 483.9,533.4 C486.2,533.72 492.23,533.4 493.9,533.4" fill="none" stroke="#bf2a66" stroke-width="1.8" stroke-linecap="round"/>
<rect x="371.1" y="479" width="129" height="64" fill="none" stroke="#5a5a5a" stroke-width="1.4" />
<line x1="386.4" y1="479" x2="386.4" y2="482" stroke="#333" stroke-width="1.1" />
<line x1="386.4" y1="543" x2="386.4" y2="540" stroke="#333" stroke-width="1.1" />
<line x1="483.2" y1="479" x2="483.2" y2="482" stroke="#333" stroke-width="1.1" />
<line x1="483.2" y1="543" x2="483.2" y2="540" stroke="#333" stroke-width="1.1" />
<line x1="371.1" y1="482.2" x2="374.3" y2="482.2" stroke="#333" stroke-width="1.1" />
<line x1="500.1" y1="482.2" x2="496.9" y2="482.2" stroke="#333" stroke-width="1.1" />
<line x1="371.1" y1="512" x2="374.3" y2="512" stroke="#333" stroke-width="1.1" />
<line x1="500.1" y1="512" x2="496.9" y2="512" stroke="#333" stroke-width="1.1" />
<line x1="371.1" y1="541" x2="374.3" y2="541" stroke="#333" stroke-width="1.1" />
<line x1="500.1" y1="541" x2="496.9" y2="541" stroke="#333" stroke-width="1.1" />
<text x="422" y="475.2" font-size="9.2" fill="#1a1a1a" font-weight="bold" textLength="24.3" lengthAdjust="spacingAndGlyphs" >bio_4</text>
<text x="386.4" y="554.7" font-size="8.6" fill="#3a3a3a" text-anchor="middle" textLength="11.76" lengthAdjust="spacingAndGlyphs" >153</text>
<text x="483.2" y="554.7" font-size="8.6" fill="#3a3a3a" text-anchor="middle" textLength="15.68" lengthAdjust="spacingAndGlyphs" >2443</text>
<text x="367.3" y="485.1" font-size="8" fill="#3a3a3a" text-anchor="end" textLength="10.29" lengthAdjust="spacingAndGlyphs" >1.0</text>
<text x="367.3" y="514.9" font-size="8" fill="#3a3a3a" text-anchor="end" textLength="10.29" lengthAdjust="spacingAndGlyphs" >0.5</text>
<text x="367.3" y="543.9" font-size="8" fill="#3a3a3a" text-anchor="end" textLength="10.29" lengthAdjust="spacingAndGlyphs" >0.0</text>
<line x1="553.5" y1="474.7" x2="553.5" y2="540.5" stroke="#d2d2d2" stroke-width="0.9" />
<line x1="654" y1="474.7" x2="654" y2="540.5" stroke="#d2d2d2" stroke-width="0.9" />
<line x1="537.8" y1="478" x2="671.4" y2="478" stroke="#d2d2d2" stroke-width="0.9" />
<line x1="537.8" y1="508.3" x2="671.4" y2="508.3" stroke="#d2d2d2" stroke-width="0.9" />
<line x1="537.8" y1="538" x2="671.4" y2="538" stroke="#d2d2d2" stroke-width="0.9" />
<path d="M542.9,535.8 L543.58,535.81 L544.47,535.83 L545.52,535.86 L546.7,535.89 L547.94,535.92 L549.19,535.94 L550.41,535.94 L551.53,535.92 L552.5,535.88 L553.24,535.81 L553.83,535.71 L554.28,535.59 L554.62,535.48 L554.88,535.36 L555.09,535.23 L555.28,535.08 L555.48,534.9 L555.73,534.67 L556.03,534.4 L556.39,534.09 L556.69,533.77 L556.98,533.46 L557.26,533.15 L557.52,532.83 L557.77,532.51 L558.01,532.16 L558.24,531.79 L558.47,531.38 L558.69,530.93 L558.92,530.44 L559.12,529.86 L559.32,529.24 L559.51,528.57 L559.71,527.87 L559.9,527.12 L560.09,526.34 L560.28,525.53 L560.46,524.7 L560.64,523.83 L560.81,522.94 L561.03,522.07 L561.25,521.16 L561.46,520.22 L561.67,519.24 L561.87,518.22 L562.08,517.16 L562.29,516.07 L562.5,514.94 L562.73,513.78 L562.97,512.58 L563.25,511.38 L563.55,510.1 L563.85,508.77 L564.16,507.4 L564.47,506.01 L564.79,504.61 L565.11,503.22 L565.43,501.84 L565.75,500.51 L566.07,499.22 L566.4,497.98 L566.74,496.74 L567.08,495.51 L567.42,494.29 L567.76,493.09 L568.11,491.92 L568.45,490.79 L568.8,489.72 L569.15,488.7 L569.51,487.74 L569.86,486.87 L570.23,486.02 L570.6,485.21 L570.97,484.44 L571.35,483.73 L571.73,483.07 L572.11,482.47 L572.51,481.94 L572.94,481.46 L573.44,481.04 L574.03,480.67 L574.8,480.48 L575.6,480.6 L576.21,480.92 L576.62,481.3 L576.93,481.68 L577.2,482.07 L577.45,482.47 L577.71,482.88 L577.97,483.3 L578.3,483.85 L578.63,484.47 L578.97,485.14 L579.32,485.85 L579.67,486.6 L580.02,487.38 L580.38,488.18 L580.75,488.99 L581.11,489.79 L581.46,490.57 L581.83,491.38 L582.2,492.21 L582.58,493.06 L582.96,493.93 L583.35,494.8 L583.74,495.69 L584.12,496.57 L584.51,497.45 L584.89,498.33 L585.27,499.19 L585.66,500.06 L586.06,500.93 L586.47,501.82 L586.87,502.71 L587.27,503.59 L587.67,504.47 L588.06,505.33 L588.44,506.16 L588.81,506.98 L589.17,507.76 L589.53,508.57 L589.86,509.38 L590.18,510.17 L590.48,510.94 L590.77,511.66 L591.04,512.31 L591.31,512.89 L591.56,513.37 L591.79,513.72 L591.95,513.91 L592.07,514 L592.07,513.98 L591.99,513.93 L591.93,513.89 L591.98,513.87 L592.16,513.83 L592.48,513.76 L592.92,513.68 L593.47,513.62 L594.11,513.6 L594.54,513.61 L595.03,513.61 L595.56,513.59 L596.13,513.58 L596.74,513.56 L597.37,513.54 L598.02,513.52 L598.69,513.5 L599.37,513.5 L600.06,513.5 L600.75,513.52 L601.45,513.54 L602.14,513.58 L602.84,513.62 L603.55,513.66 L604.25,513.69 L604.95,513.73 L605.66,513.76 L606.36,513.79 L607.06,513.8 L607.94,513.86 L608.78,513.96 L609.59,514.08 L610.36,514.19 L611.09,514.28 L611.77,514.33 L612.39,514.35 L612.94,514.31 L613.42,514.22 L613.84,514.08 L614.21,513.82 L614.65,513.42 L615.14,512.91 L615.67,512.29 L616.21,511.59 L616.77,510.84 L617.34,510.07 L617.94,509.29 L618.57,508.52 L619.26,507.77 L619.84,507.2 L620.41,506.65 L620.98,506.12 L621.54,505.62 L622.09,505.13 L622.62,504.67 L623.14,504.23 L623.64,503.81 L624.12,503.42 L624.58,503.04 L624.81,502.77 L625.07,502.45 L625.37,502.07 L625.72,501.65 L626.16,501.19 L626.73,500.68 L627.52,500.16 L628.63,499.74 L630.04,499.61 L631.49,499.9 L632.61,500.64 L633.37,501.42 L633.92,502.17 L634.35,502.91 L634.72,503.63 L635.06,504.34 L635.37,505.04 L635.67,505.72 L635.96,506.37 L636.24,506.97 L636.6,507.73 L636.95,508.51 L637.29,509.29 L637.63,510.09 L637.97,510.89 L638.31,511.69 L638.66,512.48 L639.01,513.26 L639.37,514.02 L639.73,514.75 L640.2,515.48 L640.68,516.22 L641.18,516.97 L641.69,517.72 L642.21,518.46 L642.73,519.2 L643.26,519.91 L643.78,520.6 L644.29,521.27 L644.79,521.89 L645.29,522.51 L645.78,523.12 L646.26,523.7 L646.74,524.26 L647.21,524.79 L647.68,525.29 L648.15,525.77 L648.6,526.21 L649.06,526.63 L649.5,527 L650.01,527.42 L650.44,527.8 L650.81,528.12 L651.15,528.39 L651.47,528.63 L651.8,528.83 L652.17,529.02 L652.62,529.2 L653.17,529.37 L653.86,529.52 L654.69,529.62 L655.76,529.69 L656.99,529.72 L658.32,529.73 L659.69,529.71 L661.04,529.69 L662.32,529.65 L663.47,529.62 L664.44,529.6 L665.2,529.6 L665.2,532.8 L664.52,532.82 L663.58,532.86 L662.43,532.91 L661.14,532.96 L659.77,533.01 L658.36,533.05 L656.97,533.06 L655.65,533.05 L654.43,532.99 L653.34,532.88 L652.45,532.75 L651.65,532.58 L650.92,532.37 L650.25,532.12 L649.63,531.84 L649.07,531.53 L648.55,531.2 L648.07,530.87 L647.59,530.54 L647.1,530.2 L646.5,529.75 L645.91,529.27 L645.32,528.77 L644.75,528.25 L644.19,527.7 L643.62,527.13 L643.07,526.55 L642.51,525.95 L641.96,525.33 L641.41,524.71 L640.85,524.04 L640.28,523.34 L639.71,522.61 L639.13,521.86 L638.56,521.1 L638,520.33 L637.45,519.55 L636.9,518.78 L636.38,518.01 L635.87,517.25 L635.4,516.43 L634.96,515.6 L634.54,514.78 L634.13,513.97 L633.74,513.16 L633.37,512.38 L633.01,511.63 L632.66,510.91 L632.32,510.23 L631.98,509.6 L631.58,508.91 L631.2,508.22 L630.84,507.56 L630.5,506.93 L630.18,506.36 L629.88,505.86 L629.61,505.47 L629.4,505.19 L629.27,505.06 L629.3,505.06 L629.45,505.11 L629.63,505.13 L629.69,505.13 L629.62,505.2 L629.43,505.36 L629.16,505.61 L628.82,505.93 L628.43,506.31 L627.97,506.72 L627.45,507.14 L627,507.45 L626.54,507.79 L626.05,508.14 L625.56,508.52 L625.04,508.91 L624.52,509.33 L623.99,509.76 L623.44,510.22 L622.9,510.69 L622.34,511.18 L621.87,511.66 L621.35,512.25 L620.79,512.93 L620.19,513.67 L619.56,514.44 L618.89,515.22 L618.18,515.98 L617.4,516.7 L616.54,517.36 L615.56,517.92 L614.54,518.29 L613.53,518.51 L612.55,518.6 L611.6,518.61 L610.7,518.56 L609.83,518.47 L609.02,518.38 L608.25,518.29 L607.56,518.23 L606.94,518.2 L606.17,518.16 L605.42,518.12 L604.68,518.06 L603.95,518 L603.24,517.94 L602.54,517.89 L601.86,517.83 L601.2,517.78 L600.56,517.73 L599.94,517.7 L599.32,517.68 L598.7,517.66 L598.07,517.66 L597.44,517.65 L596.81,517.66 L596.2,517.66 L595.59,517.65 L595.01,517.65 L594.44,517.63 L593.89,517.6 L593.64,517.58 L593.37,517.58 L593.06,517.6 L592.69,517.64 L592.23,517.66 L591.67,517.65 L591.02,517.52 L590.35,517.23 L589.75,516.81 L589.25,516.29 L588.8,515.66 L588.44,515 L588.13,514.32 L587.85,513.6 L587.58,512.86 L587.32,512.09 L587.06,511.32 L586.8,510.54 L586.52,509.78 L586.23,509.04 L585.9,508.26 L585.55,507.44 L585.19,506.59 L584.82,505.73 L584.44,504.85 L584.06,503.95 L583.67,503.06 L583.28,502.17 L582.9,501.28 L582.53,500.41 L582.14,499.54 L581.76,498.66 L581.37,497.77 L580.99,496.89 L580.6,496.01 L580.22,495.14 L579.84,494.28 L579.46,493.44 L579.1,492.62 L578.74,491.83 L578.37,491.02 L578.01,490.21 L577.65,489.41 L577.29,488.62 L576.94,487.86 L576.61,487.14 L576.28,486.46 L575.97,485.86 L575.69,485.33 L575.43,484.9 L575.15,484.45 L574.9,484.05 L574.69,483.71 L574.52,483.47 L574.42,483.34 L574.41,483.33 L574.6,483.42 L574.96,483.48 L575.27,483.4 L575.36,483.36 L575.26,483.42 L575.07,483.65 L574.83,484.01 L574.55,484.48 L574.26,485.05 L573.96,485.69 L573.66,486.4 L573.35,487.16 L573.04,487.96 L572.73,488.81 L572.46,489.7 L572.19,490.67 L571.91,491.72 L571.63,492.82 L571.35,493.97 L571.08,495.16 L570.8,496.38 L570.52,497.62 L570.24,498.87 L569.96,500.11 L569.67,501.37 L569.38,502.69 L569.08,504.04 L568.79,505.43 L568.49,506.82 L568.2,508.22 L567.91,509.6 L567.63,510.94 L567.35,512.24 L567.07,513.48 L566.8,514.65 L566.54,515.79 L566.28,516.91 L566.03,518 L565.78,519.07 L565.53,520.11 L565.27,521.12 L565.01,522.11 L564.74,523.07 L564.46,524.01 L564.19,524.92 L563.92,525.81 L563.65,526.67 L563.37,527.51 L563.08,528.33 L562.79,529.1 L562.49,529.85 L562.19,530.56 L561.87,531.24 L561.55,531.87 L561.22,532.47 L560.88,533.02 L560.54,533.52 L560.18,533.98 L559.82,534.4 L559.46,534.79 L559.1,535.15 L558.73,535.49 L558.37,535.81 L558.01,536.11 L557.71,536.35 L557.43,536.59 L557.13,536.84 L556.8,537.09 L556.41,537.35 L555.97,537.58 L555.47,537.78 L554.91,537.95 L554.28,538.08 L553.56,538.19 L552.65,538.27 L551.59,538.32 L550.42,538.34 L549.17,538.34 L547.89,538.32 L546.64,538.29 L545.46,538.26 L544.4,538.23 L543.53,538.21 L542.9,538.2 Z" fill="#0000ff" stroke="#0000ff" stroke-width="0.5" stroke-linejoin="round"/>
<path d="M542.9,537 C544.65,537 551.02,537.32 553.4,537 C555.78,536.68 556.02,536.05 557.2,535.1 C558.38,534.15 559.47,533.2 560.5,531.3 C561.53,529.4 562.52,526.72 563.4,523.7 C564.28,520.68 564.93,517.18 565.8,513.2 C566.67,509.22 567.65,503.93 568.6,499.8 C569.55,495.67 570.53,491.33 571.5,488.4 C572.47,485.47 573.53,482.92 574.4,482.2 C575.27,481.48 575.75,482.6 576.7,484.1 C577.65,485.6 578.9,488.58 580.1,491.2 C581.3,493.82 582.63,496.93 583.9,499.8 C585.17,502.67 586.58,505.85 587.7,508.4 C588.82,510.95 589.55,513.9 590.6,515.1 C591.65,516.3 592.43,515.52 594,515.6 C595.57,515.68 597.83,515.53 600,515.6 C602.17,515.67 604.55,515.93 607,516 C609.45,516.07 612.37,517.05 614.7,516 C617.03,514.95 619.07,511.45 621,509.7 C622.93,507.95 624.8,506.55 626.3,505.5 C627.8,504.45 628.78,502.88 630,503.4 C631.22,503.92 632.3,506.5 633.6,508.6 C634.9,510.7 636.22,513.55 637.8,516 C639.38,518.45 641.35,521.2 643.1,523.3 C644.85,525.4 646.55,527.28 648.3,528.6 C650.05,529.92 650.78,530.77 653.6,531.2 C656.42,531.63 663.27,531.2 665.2,531.2" fill="none" stroke="#bf2a66" stroke-width="1.8" stroke-linecap="round"/>
<rect x="537.8" y="474.7" width="133.6" height="65.8" fill="none" stroke="#5a5a5a" stroke-width="1.4" />
<line x1="553.5" y1="474.7" x2="553.5" y2="477.7" stroke="#333" stroke-width="1.1" />
<line x1="553.5" y1="540.5" x2="553.5" y2="537.5" stroke="#333" stroke-width="1.1" />
<line x1="654" y1="474.7" x2="654" y2="477.7" stroke="#333" stroke-width="1.1" />
<line x1="654" y1="540.5" x2="654" y2="537.5" stroke="#333" stroke-width="1.1" />
<line x1="537.8" y1="478" x2="541" y2="478" stroke="#333" stroke-width="1.1" />
<line x1="671.4" y1="478" x2="668.2" y2="478" stroke="#333" stroke-width="1.1" />
<line x1="537.8" y1="508.3" x2="541" y2="508.3" stroke="#333" stroke-width="1.1" />
<line x1="671.4" y1="508.3" x2="668.2" y2="508.3" stroke="#333" stroke-width="1.1" />
<line x1="537.8" y1="538" x2="541" y2="538" stroke="#333" stroke-width="1.1" />
<line x1="671.4" y1="538" x2="668.2" y2="538" stroke="#333" stroke-width="1.1" />
<text x="588.2" y="469.8" font-size="9.2" fill="#1a1a1a" font-weight="bold" textLength="29.8" lengthAdjust="spacingAndGlyphs" >bio_14</text>
<text x="553.5" y="552.3" font-size="8.6" fill="#3a3a3a" text-anchor="middle" textLength="21.56" lengthAdjust="spacingAndGlyphs" >51.202</text>
<text x="654" y="552.3" font-size="8.6" fill="#3a3a3a" text-anchor="middle" textLength="25.48" lengthAdjust="spacingAndGlyphs" >174.551</text>
<text x="533.6" y="480.9" font-size="8" fill="#3a3a3a" text-anchor="end" textLength="10.29" lengthAdjust="spacingAndGlyphs" >1.0</text>
<text x="533.6" y="511.2" font-size="8" fill="#3a3a3a" text-anchor="end" textLength="10.29" lengthAdjust="spacingAndGlyphs" >0.5</text>
<text x="533.6" y="540.9" font-size="8" fill="#3a3a3a" text-anchor="end" textLength="10.29" lengthAdjust="spacingAndGlyphs" >0.0</text>
<line x1="389.7" y1="586.1" x2="389.7" y2="650.6" stroke="#d2d2d2" stroke-width="0.9" />
<line x1="487" y1="586.1" x2="487" y2="650.6" stroke="#d2d2d2" stroke-width="0.9" />
<line x1="374.3" y1="589.3" x2="503.4" y2="589.3" stroke="#d2d2d2" stroke-width="0.9" />
<line x1="374.3" y1="619.1" x2="503.4" y2="619.1" stroke="#d2d2d2" stroke-width="0.9" />
<line x1="374.3" y1="648.1" x2="503.4" y2="648.1" stroke="#d2d2d2" stroke-width="0.9" />
<path d="M379.24,644.1 L379.91,644.07 L380.78,644.05 L381.81,644.02 L382.95,644 L384.16,643.96 L385.39,643.92 L386.59,643.87 L387.71,643.8 L388.69,643.72 L389.47,643.62 L390.1,643.43 L390.61,643.24 L391.02,643.05 L391.37,642.85 L391.67,642.64 L391.96,642.42 L392.27,642.17 L392.63,641.89 L393.05,641.58 L393.55,641.24 L393.98,640.95 L394.42,640.63 L394.87,640.3 L395.34,639.95 L395.81,639.59 L396.29,639.21 L396.78,638.82 L397.29,638.42 L397.8,638.01 L398.33,637.59 L398.94,637.14 L399.52,636.73 L400.07,636.34 L400.59,635.97 L401.08,635.61 L401.55,635.23 L402.01,634.84 L402.48,634.42 L402.95,633.95 L403.45,633.42 L404.02,632.76 L404.65,632 L405.32,631.16 L406.03,630.26 L406.75,629.32 L407.47,628.35 L408.18,627.38 L408.87,626.42 L409.52,625.48 L410.13,624.59 L410.75,623.8 L411.33,623.03 L411.88,622.29 L412.41,621.56 L412.91,620.84 L413.4,620.12 L413.88,619.39 L414.35,618.65 L414.82,617.88 L415.3,617.08 L415.76,616.34 L416.23,615.54 L416.69,614.71 L417.15,613.83 L417.62,612.92 L418.11,611.97 L418.61,610.99 L419.13,609.99 L419.68,608.96 L420.27,607.92 L420.87,606.97 L421.5,605.96 L422.15,604.91 L422.82,603.82 L423.5,602.73 L424.2,601.65 L424.92,600.59 L425.64,599.58 L426.38,598.61 L427.14,597.72 L427.86,597.01 L428.6,596.32 L429.35,595.65 L430.12,595.02 L430.91,594.44 L431.72,593.91 L432.56,593.47 L433.43,593.12 L434.34,592.89 L435.28,592.81 L436.13,592.78 L436.97,592.88 L437.78,593.1 L438.55,593.43 L439.29,593.86 L439.99,594.37 L440.66,594.95 L441.31,595.61 L441.95,596.33 L442.57,597.13 L443.25,598.08 L443.91,599.15 L444.56,600.33 L445.2,601.58 L445.84,602.88 L446.46,604.2 L447.07,605.51 L447.65,606.78 L448.21,607.97 L448.73,609.06 L449.24,610.11 L449.71,611.11 L450.14,612.07 L450.56,613 L450.96,613.9 L451.36,614.79 L451.76,615.69 L452.18,616.6 L452.63,617.53 L453.11,618.5 L453.64,619.55 L454.19,620.66 L454.76,621.79 L455.35,622.95 L455.95,624.1 L456.56,625.24 L457.16,626.35 L457.76,627.42 L458.35,628.41 L458.92,629.33 L459.48,630.2 L460.03,631.02 L460.57,631.79 L461.1,632.51 L461.63,633.21 L462.16,633.86 L462.7,634.5 L463.26,635.11 L463.84,635.71 L464.44,636.29 L465.03,636.82 L465.69,637.33 L466.39,637.83 L467.13,638.33 L467.89,638.81 L468.67,639.29 L469.44,639.78 L470.2,640.27 L470.93,640.77 L471.63,641.3 L472.24,641.89 L472.78,642.48 L473.24,643.06 L473.65,643.61 L474.02,644.11 L474.35,644.57 L474.66,644.98 L474.95,645.33 L475.23,645.62 L475.51,645.85 L475.91,646.08 L476.19,646.24 L476.41,646.34 L476.6,646.42 L476.85,646.48 L477.19,646.53 L477.66,646.57 L478.28,646.61 L479.06,646.65 L480.04,646.7 L481.28,646.73 L482.83,646.75 L484.61,646.76 L486.53,646.76 L488.51,646.75 L490.47,646.74 L492.32,646.73 L493.98,646.71 L495.37,646.7 L496.4,646.7 L496.4,648.9 L495.38,648.9 L494,648.91 L492.34,648.93 L490.49,648.94 L488.52,648.95 L486.54,648.96 L484.6,648.96 L482.81,648.95 L481.24,648.93 L479.96,648.9 L479,648.89 L478.22,648.89 L477.58,648.89 L477.04,648.88 L476.55,648.86 L476.09,648.8 L475.64,648.7 L475.19,648.55 L474.76,648.37 L474.29,648.15 L473.66,647.81 L473.09,647.43 L472.58,647 L472.11,646.57 L471.66,646.12 L471.22,645.69 L470.78,645.26 L470.33,644.85 L469.87,644.46 L469.37,644.1 L468.83,643.7 L468.21,643.27 L467.51,642.82 L466.77,642.35 L465.98,641.86 L465.17,641.35 L464.35,640.8 L463.53,640.22 L462.73,639.59 L461.96,638.91 L461.28,638.25 L460.63,637.57 L460,636.88 L459.39,636.17 L458.8,635.43 L458.21,634.67 L457.63,633.88 L457.06,633.05 L456.47,632.18 L455.88,631.27 L455.27,630.27 L454.64,629.21 L454.01,628.1 L453.38,626.95 L452.76,625.77 L452.15,624.59 L451.55,623.42 L450.97,622.27 L450.41,621.16 L449.89,620.1 L449.4,619.07 L448.95,618.08 L448.53,617.13 L448.13,616.2 L447.74,615.29 L447.36,614.38 L446.97,613.46 L446.57,612.52 L446.14,611.55 L445.67,610.54 L445.14,609.39 L444.59,608.16 L444.02,606.88 L443.44,605.58 L442.85,604.28 L442.26,603.03 L441.67,601.84 L441.09,600.76 L440.54,599.82 L440.03,599.07 L439.49,598.41 L438.96,597.84 L438.45,597.35 L437.97,596.95 L437.51,596.64 L437.09,596.42 L436.71,596.27 L436.36,596.19 L436.03,596.16 L435.72,596.19 L435.45,596.27 L435.11,596.43 L434.71,596.69 L434.26,597.05 L433.78,597.5 L433.27,598.03 L432.75,598.64 L432.21,599.3 L431.66,600.01 L431.11,600.75 L430.62,601.52 L430.11,602.39 L429.58,603.35 L429.05,604.38 L428.51,605.45 L427.98,606.55 L427.45,607.67 L426.93,608.78 L426.42,609.87 L425.92,610.93 L425.45,611.88 L425,612.83 L424.56,613.8 L424.13,614.77 L423.7,615.74 L423.26,616.72 L422.82,617.69 L422.35,618.67 L421.87,619.64 L421.35,620.61 L420.8,621.49 L420.26,622.34 L419.71,623.16 L419.15,623.97 L418.59,624.77 L418.01,625.55 L417.41,626.34 L416.8,627.14 L416.16,627.95 L415.49,628.78 L414.78,629.64 L414.01,630.55 L413.21,631.49 L412.39,632.45 L411.55,633.4 L410.7,634.34 L409.86,635.25 L409.03,636.1 L408.22,636.9 L407.45,637.62 L406.69,638.28 L405.96,638.86 L405.25,639.36 L404.57,639.81 L403.91,640.2 L403.28,640.56 L402.68,640.88 L402.11,641.19 L401.56,641.49 L401.02,641.8 L400.45,642.15 L399.88,642.51 L399.32,642.85 L398.75,643.19 L398.19,643.53 L397.63,643.85 L397.07,644.16 L396.51,644.46 L395.95,644.75 L395.39,645.02 L394.93,645.23 L394.5,645.43 L394.07,645.63 L393.62,645.83 L393.14,646.03 L392.61,646.22 L392.04,646.4 L391.41,646.55 L390.71,646.68 L389.93,646.78 L388.98,646.88 L387.9,646.95 L386.72,647 L385.48,647.04 L384.23,647.06 L383,647.08 L381.85,647.08 L380.82,647.09 L379.97,647.09 L379.36,647.1 Z" fill="#0000ff" stroke="#0000ff" stroke-width="0.5" stroke-linejoin="round"/>
<path d="M379.3,645.6 C381.03,645.53 387.15,645.57 389.7,645.2 C392.25,644.83 392.88,644.23 394.6,643.4 C396.32,642.57 398.1,641.42 400,640.2 C401.9,638.98 403.73,638.25 406,636.1 C408.27,633.95 411.42,630.1 413.6,627.3 C415.78,624.5 417.4,622.22 419.1,619.3 C420.8,616.38 422.05,613.08 423.8,609.8 C425.55,606.52 427.65,602.15 429.6,599.6 C431.55,597.05 433.55,594.75 435.5,594.5 C437.45,594.25 439.35,595.55 441.3,598.1 C443.25,600.65 445.5,606.27 447.2,609.8 C448.9,613.33 449.8,615.88 451.5,619.3 C453.2,622.72 455.45,627.25 457.4,630.3 C459.35,633.35 461.02,635.53 463.2,637.6 C465.38,639.67 468.55,641.13 470.5,642.7 C472.45,644.27 473.32,646.15 474.9,647 C476.48,647.85 476.42,647.67 480,647.8 C483.58,647.93 493.67,647.8 496.4,647.8" fill="none" stroke="#bf2a66" stroke-width="1.8" stroke-linecap="round"/>
<rect x="374.3" y="586.1" width="129.1" height="64.5" fill="none" stroke="#5a5a5a" stroke-width="1.4" />
<line x1="389.7" y1="586.1" x2="389.7" y2="589.1" stroke="#333" stroke-width="1.1" />
<line x1="389.7" y1="650.6" x2="389.7" y2="647.6" stroke="#333" stroke-width="1.1" />
<line x1="487" y1="586.1" x2="487" y2="589.1" stroke="#333" stroke-width="1.1" />
<line x1="487" y1="650.6" x2="487" y2="647.6" stroke="#333" stroke-width="1.1" />
<line x1="374.3" y1="589.3" x2="377.5" y2="589.3" stroke="#333" stroke-width="1.1" />
<line x1="503.4" y1="589.3" x2="500.2" y2="589.3" stroke="#333" stroke-width="1.1" />
<line x1="374.3" y1="619.1" x2="377.5" y2="619.1" stroke="#333" stroke-width="1.1" />
<line x1="503.4" y1="619.1" x2="500.2" y2="619.1" stroke="#333" stroke-width="1.1" />
<line x1="374.3" y1="648.1" x2="377.5" y2="648.1" stroke="#333" stroke-width="1.1" />
<line x1="503.4" y1="648.1" x2="500.2" y2="648.1" stroke="#333" stroke-width="1.1" />
<text x="423.2" y="582.3" font-size="9.2" fill="#1a1a1a" font-weight="bold" textLength="29.8" lengthAdjust="spacingAndGlyphs" >bio_18</text>
<text x="389.7" y="662.8" font-size="8.6" fill="#3a3a3a" text-anchor="middle" textLength="17.64" lengthAdjust="spacingAndGlyphs" >5.283</text>
<text x="487" y="662.8" font-size="8.6" fill="#3a3a3a" text-anchor="middle" textLength="21.56" lengthAdjust="spacingAndGlyphs" >30.395</text>
<text x="370.3" y="592.2" font-size="8" fill="#3a3a3a" text-anchor="end" textLength="10.29" lengthAdjust="spacingAndGlyphs" >1.0</text>
<text x="370.3" y="622" font-size="8" fill="#3a3a3a" text-anchor="end" textLength="10.29" lengthAdjust="spacingAndGlyphs" >0.5</text>
<text x="370.3" y="651" font-size="8" fill="#3a3a3a" text-anchor="end" textLength="10.29" lengthAdjust="spacingAndGlyphs" >0.0</text>
<defs><clipPath id="c17"><rect x="520.4" y="570" width="20" height="90"/></clipPath></defs>
<line x1="549.7" y1="581.1" x2="549.7" y2="649.8" stroke="#d2d2d2" stroke-width="0.9" />
<line x1="655.2" y1="581.1" x2="655.2" y2="649.8" stroke="#d2d2d2" stroke-width="0.9" />
<line x1="532.4" y1="584.1" x2="673.1" y2="584.1" stroke="#d2d2d2" stroke-width="0.9" />
<line x1="532.4" y1="615.8" x2="673.1" y2="615.8" stroke="#d2d2d2" stroke-width="0.9" />
<line x1="532.4" y1="647.4" x2="673.1" y2="647.4" stroke="#d2d2d2" stroke-width="0.9" />
<path d="M537.7,637.5 L538.42,637.51 L539.27,637.55 L540.26,637.59 L541.35,637.64 L542.51,637.68 L543.7,637.71 L544.87,637.71 L545.98,637.69 L546.99,637.63 L547.83,637.53 L548.61,637.41 L549.35,637.25 L550.05,637.07 L550.75,636.85 L551.45,636.61 L552.18,636.33 L552.94,636.02 L553.75,635.69 L554.63,635.33 L555.57,634.96 L556.55,634.61 L557.59,634.23 L558.68,633.82 L559.8,633.39 L560.93,632.94 L562.06,632.49 L563.16,632.04 L564.22,631.6 L565.22,631.18 L566.14,630.78 L566.88,630.2 L567.57,629.62 L568.23,629.05 L568.84,628.49 L569.43,627.93 L569.98,627.38 L570.52,626.84 L571.03,626.3 L571.54,625.77 L572.04,625.24 L572.29,624.71 L572.52,624.17 L572.74,623.63 L572.97,623.06 L573.24,622.46 L573.57,621.82 L573.98,621.14 L574.52,620.43 L575.22,619.69 L576.11,618.96 L577.17,618.7 L578.17,618.56 L579.09,618.51 L579.9,618.54 L580.61,618.61 L581.22,618.7 L581.72,618.81 L582.13,618.92 L582.45,619.02 L582.71,619.11 L583.26,619.18 L583.77,619.27 L584.26,619.36 L584.73,619.45 L585.19,619.55 L585.65,619.65 L586.12,619.74 L586.61,619.84 L587.14,619.92 L587.73,620 L588.41,620.13 L589.2,620.24 L590.05,620.35 L590.95,620.45 L591.87,620.56 L592.78,620.66 L593.68,620.76 L594.52,620.87 L595.29,620.98 L595.98,621.1 L596.58,621.11 L597.11,621.13 L597.57,621.15 L597.98,621.18 L598.35,621.21 L598.67,621.23 L598.95,621.26 L599.22,621.28 L599.49,621.3 L599.78,621.31 L600.39,621.31 L600.9,621.35 L601.3,621.41 L601.58,621.46 L601.75,621.49 L601.8,621.51 L601.75,621.54 L601.66,621.59 L601.6,621.64 L601.62,621.65 L601.87,621.46 L602.13,621.23 L602.41,620.96 L602.7,620.64 L603,620.26 L603.31,619.81 L603.63,619.29 L603.96,618.69 L604.29,618.02 L604.64,617.26 L604.95,616.42 L605.28,615.44 L605.61,614.35 L605.94,613.18 L606.28,611.95 L606.62,610.67 L606.97,609.37 L607.33,608.05 L607.7,606.75 L608.07,605.47 L608.43,604.2 L608.8,602.77 L609.19,601.24 L609.58,599.67 L609.98,598.11 L610.38,596.63 L610.8,595.27 L611.24,594.07 L611.74,593.02 L612.52,592.04 L613.99,591.43 L615.45,591.85 L616.24,592.6 L616.75,593.38 L617.19,594.22 L617.59,595.11 L617.98,596.04 L618.36,596.95 L618.74,597.82 L619.1,598.57 L619.54,599.44 L619.99,600.37 L620.45,601.34 L620.9,602.35 L621.36,603.38 L621.82,604.43 L622.28,605.48 L622.74,606.52 L623.19,607.54 L623.63,608.53 L624.08,609.5 L624.53,610.48 L624.98,611.45 L625.43,612.43 L625.88,613.4 L626.33,614.37 L626.78,615.35 L627.23,616.32 L627.68,617.3 L628.13,618.28 L628.57,619.31 L629.01,620.34 L629.44,621.37 L629.86,622.39 L630.28,623.41 L630.7,624.4 L631.13,625.37 L631.56,626.3 L632,627.19 L632.45,628.03 L632.92,628.87 L633.39,629.69 L633.87,630.49 L634.36,631.26 L634.86,632.02 L635.37,632.74 L635.89,633.45 L636.41,634.13 L636.95,634.78 L637.5,635.42 L638.05,636.03 L638.63,636.62 L639.22,637.2 L639.83,637.76 L640.45,638.3 L641.08,638.82 L641.72,639.32 L642.35,639.79 L642.98,640.24 L643.6,640.66 L644.18,641.04 L644.78,641.39 L645.4,641.73 L646.02,642.04 L646.65,642.33 L647.28,642.6 L647.9,642.86 L648.52,643.11 L649.13,643.34 L649.73,643.57 L650.29,643.77 L650.77,643.95 L651.19,644.11 L651.58,644.24 L651.95,644.36 L652.35,644.46 L652.8,644.56 L653.34,644.64 L653.99,644.73 L654.78,644.8 L655.73,644.85 L656.9,644.87 L658.22,644.88 L659.63,644.88 L661.08,644.87 L662.49,644.85 L663.83,644.83 L665.03,644.82 L666.04,644.81 L666.8,644.8 L666.8,647.2 L666.06,647.2 L665.06,647.22 L663.87,647.23 L662.52,647.25 L661.1,647.27 L659.64,647.28 L658.22,647.28 L656.87,647.27 L655.66,647.24 L654.62,647.2 L653.79,647.16 L653.08,647.11 L652.45,647.05 L651.88,646.98 L651.36,646.89 L650.87,646.79 L650.4,646.67 L649.93,646.54 L649.42,646.39 L648.87,646.23 L648.24,646.06 L647.59,645.87 L646.91,645.67 L646.22,645.45 L645.5,645.21 L644.77,644.94 L644.04,644.64 L643.29,644.31 L642.55,643.95 L641.8,643.54 L641.09,643.11 L640.37,642.66 L639.65,642.17 L638.92,641.65 L638.2,641.11 L637.47,640.54 L636.76,639.94 L636.06,639.31 L635.37,638.66 L634.7,637.98 L634.06,637.28 L633.44,636.56 L632.83,635.81 L632.24,635.04 L631.66,634.25 L631.1,633.43 L630.54,632.6 L630,631.74 L629.47,630.87 L628.95,629.97 L628.44,629.01 L627.95,628.02 L627.48,627.01 L627.03,625.99 L626.59,624.96 L626.16,623.92 L625.74,622.9 L625.32,621.88 L624.9,620.88 L624.47,619.92 L624.04,618.93 L623.61,617.95 L623.18,616.96 L622.75,615.98 L622.32,615 L621.89,614.02 L621.46,613.04 L621.03,612.05 L620.6,611.06 L620.17,610.07 L619.73,609.05 L619.28,608.01 L618.84,606.95 L618.4,605.89 L617.96,604.84 L617.53,603.82 L617.11,602.83 L616.69,601.9 L616.29,601.02 L615.9,600.23 L615.46,599.3 L615.04,598.35 L614.65,597.42 L614.28,596.54 L613.94,595.77 L613.63,595.17 L613.41,594.82 L613.45,594.84 L614.17,595.03 L614.88,594.76 L614.89,594.8 L614.62,595.41 L614.29,596.39 L613.93,597.63 L613.56,599.04 L613.19,600.55 L612.82,602.12 L612.45,603.67 L612.09,605.16 L611.73,606.53 L611.4,607.76 L611.09,609.03 L610.77,610.33 L610.46,611.64 L610.16,612.94 L609.85,614.21 L609.54,615.44 L609.23,616.61 L608.9,617.72 L608.56,618.74 L608.25,619.65 L607.92,620.5 L607.59,621.28 L607.25,622.01 L606.9,622.68 L606.54,623.31 L606.17,623.88 L605.79,624.41 L605.39,624.9 L604.98,625.35 L604.34,625.87 L603.64,626.27 L602.91,626.52 L602.22,626.65 L601.63,626.69 L601.14,626.68 L600.77,626.66 L600.49,626.66 L600.32,626.67 L600.22,626.69 L599.82,626.75 L599.43,626.8 L599.07,626.84 L598.71,626.87 L598.37,626.91 L598.01,626.94 L597.64,626.97 L597.22,627.01 L596.76,627.05 L596.22,627.1 L595.58,627.24 L594.84,627.38 L594.02,627.53 L593.15,627.69 L592.25,627.85 L591.34,628 L590.44,628.16 L589.58,628.31 L588.78,628.46 L588.06,628.6 L587.39,628.66 L586.78,628.71 L586.23,628.76 L585.71,628.81 L585.24,628.85 L584.81,628.89 L584.4,628.94 L584.01,628.98 L583.63,629.04 L583.24,629.09 L582.6,629.21 L582.03,629.32 L581.55,629.41 L581.14,629.5 L580.83,629.61 L580.61,629.71 L580.48,629.83 L580.44,629.93 L580.46,630.03 L580.52,630.11 L580.38,629.74 L580.1,629.44 L579.68,629.24 L579.15,629.13 L578.54,629.11 L577.86,629.14 L577.13,629.21 L576.35,629.3 L575.54,629.39 L574.7,629.47 L574.13,629.86 L573.53,630.25 L572.91,630.67 L572.27,631.09 L571.59,631.53 L570.89,631.97 L570.14,632.42 L569.36,632.88 L568.53,633.35 L567.66,633.82 L566.75,634.33 L565.76,634.86 L564.71,635.4 L563.63,635.95 L562.52,636.51 L561.4,637.05 L560.3,637.59 L559.23,638.1 L558.2,638.59 L557.23,639.04 L556.37,639.42 L555.54,639.8 L554.75,640.17 L553.95,640.53 L553.15,640.88 L552.33,641.22 L551.46,641.53 L550.55,641.82 L549.59,642.06 L548.57,642.27 L547.4,642.41 L546.18,642.48 L544.91,642.51 L543.63,642.51 L542.37,642.48 L541.16,642.44 L540.04,642.39 L539.06,642.34 L538.26,642.31 L537.7,642.3 Z" fill="#0000ff" stroke="#0000ff" stroke-width="0.5" stroke-linejoin="round"/>
<path d="M537.7,639.9 C539.45,639.9 545.08,640.38 548.2,639.9 C551.32,639.42 553.28,638.27 556.4,637 C559.52,635.73 563.98,633.77 566.9,632.3 C569.82,630.83 571.97,629.42 573.9,628.2 C575.83,626.98 576.98,625.6 578.5,625 C580.02,624.4 581.43,624.68 583,624.6 C584.57,624.52 585.72,624.58 587.9,624.5 C590.08,624.42 594.08,624.18 596.1,624.1 C598.12,624.02 598.8,624.1 600,624 C601.2,623.9 602.2,624.5 603.3,623.5 C604.4,622.5 605.5,620.92 606.6,618 C607.7,615.08 608.72,610.1 609.9,606 C611.08,601.9 612.43,594.5 613.7,593.4 C614.97,592.3 616.13,596.75 617.5,599.4 C618.87,602.05 620.43,606.02 621.9,609.3 C623.37,612.58 624.83,615.82 626.3,619.1 C627.77,622.38 629.07,626.07 630.7,629 C632.33,631.93 634.1,634.52 636.1,636.7 C638.1,638.88 640.5,640.73 642.7,642.1 C644.9,643.47 647.3,644.25 649.3,644.9 C651.3,645.55 651.78,645.82 654.7,646 C657.62,646.18 664.78,646 666.8,646" fill="none" stroke="#bf2a66" stroke-width="1.8" stroke-linecap="round"/>
<rect x="532.4" y="581.1" width="140.7" height="68.7" fill="none" stroke="#5a5a5a" stroke-width="1.4" />
<line x1="549.7" y1="581.1" x2="549.7" y2="584.1" stroke="#333" stroke-width="1.1" />
<line x1="549.7" y1="649.8" x2="549.7" y2="646.8" stroke="#333" stroke-width="1.1" />
<line x1="655.2" y1="581.1" x2="655.2" y2="584.1" stroke="#333" stroke-width="1.1" />
<line x1="655.2" y1="649.8" x2="655.2" y2="646.8" stroke="#333" stroke-width="1.1" />
<line x1="532.4" y1="584.1" x2="535.6" y2="584.1" stroke="#333" stroke-width="1.1" />
<line x1="673.1" y1="584.1" x2="669.9" y2="584.1" stroke="#333" stroke-width="1.1" />
<line x1="532.4" y1="615.8" x2="535.6" y2="615.8" stroke="#333" stroke-width="1.1" />
<line x1="673.1" y1="615.8" x2="669.9" y2="615.8" stroke="#333" stroke-width="1.1" />
<line x1="532.4" y1="647.4" x2="535.6" y2="647.4" stroke="#333" stroke-width="1.1" />
<line x1="673.1" y1="647.4" x2="669.9" y2="647.4" stroke="#333" stroke-width="1.1" />
<text x="585.7" y="576.1" font-size="9.2" fill="#1a1a1a" font-weight="bold" textLength="31.6" lengthAdjust="spacingAndGlyphs" >bio_17</text>
<text x="549.7" y="662.9" font-size="8.6" fill="#3a3a3a" text-anchor="middle" textLength="17.64" lengthAdjust="spacingAndGlyphs" >9.186</text>
<text x="655.2" y="662.9" font-size="8.6" fill="#3a3a3a" text-anchor="middle" textLength="21.56" lengthAdjust="spacingAndGlyphs" >19.816</text>
<text x="528.2" y="587" font-size="8" fill="#3a3a3a" text-anchor="end" textLength="10.29" lengthAdjust="spacingAndGlyphs"  clip-path="url(#c17)">1.0</text>
<text x="528.2" y="618.7" font-size="8" fill="#3a3a3a" text-anchor="end" textLength="10.29" lengthAdjust="spacingAndGlyphs"  clip-path="url(#c17)">0.5</text>
<text x="528.2" y="650.3" font-size="8" fill="#3a3a3a" text-anchor="end" textLength="10.29" lengthAdjust="spacingAndGlyphs"  clip-path="url(#c17)">0.0</text>
</svg>
</body></html>
